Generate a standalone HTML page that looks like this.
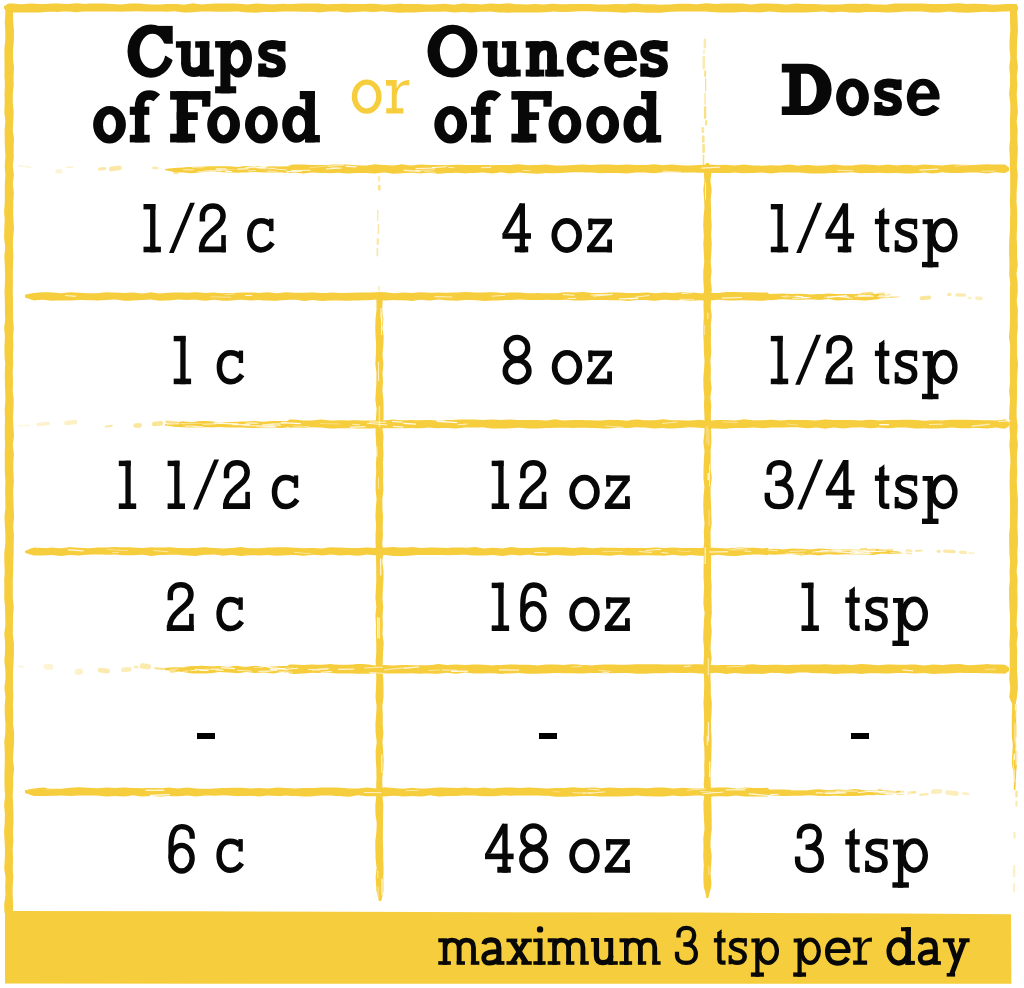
<!DOCTYPE html>
<html><head><meta charset="utf-8">
<style>
html,body{margin:0;padding:0;background:#fff;}
body{width:1024px;height:988px;position:relative;overflow:hidden;font-family:"Liberation Sans",sans-serif;}
.t{position:absolute;line-height:1;white-space:pre;transform-origin:0 0;}
.d{position:absolute;width:18px;height:6px;background:#000;}
.sr-only{position:absolute;left:0;top:0;width:1px;height:1px;overflow:hidden;clip:rect(0 0 0 0);white-space:nowrap;font-family:"Liberation Sans",sans-serif;color:transparent;}
</style></head><body>
<svg width="1024" height="988" viewBox="0 0 1024 988" style="position:absolute;left:0;top:0"><g fill="#f6cd3c"><path d="M4.0 6.3 L8.5 3.6 L13.0 3.5 L17.5 3.9 L22.0 4.2 L26.5 3.8 L31.0 3.4 L35.5 3.7 L40.0 4.1 L44.5 3.9 L49.0 3.8 L53.5 3.6 L58.0 3.4 L62.5 3.7 L67.0 4.0 L71.5 3.7 L76.0 3.3 L80.5 3.6 L85.0 3.9 L89.5 3.6 L94.0 3.4 L98.5 3.4 L103.0 3.4 L107.5 3.7 L112.0 3.9 L116.5 4.2 L121.0 4.5 L125.5 4.0 L130.0 3.5 L134.5 3.5 L139.0 3.6 L143.5 3.9 L148.0 4.2 L152.5 4.4 L157.0 4.6 L161.5 4.4 L166.0 4.1 L170.5 4.0 L175.0 3.9 L179.5 4.3 L184.0 4.7 L188.5 4.0 L193.0 3.3 L197.5 3.9 L202.0 4.5 L206.5 4.1 L211.0 3.7 L215.5 3.6 L220.0 3.5 L224.5 3.5 L229.0 3.4 L233.5 3.6 L238.0 3.7 L242.5 4.1 L247.0 4.5 L251.5 4.0 L256.0 3.5 L260.5 3.8 L265.0 4.1 L269.5 4.2 L274.0 4.2 L278.5 4.0 L283.0 3.8 L287.5 3.9 L292.0 4.1 L296.5 3.7 L301.0 3.4 L305.5 3.4 L310.0 3.4 L314.5 3.5 L319.0 3.6 L323.5 3.9 L328.0 4.3 L332.5 4.1 L337.0 3.9 L341.5 3.8 L346.0 3.7 L350.5 3.9 L355.0 4.1 L359.5 4.0 L364.0 3.9 L368.5 3.8 L373.0 3.7 L377.5 4.1 L382.0 4.4 L386.5 4.4 L391.0 4.3 L395.5 4.0 L400.0 3.6 L404.5 3.9 L409.0 4.1 L413.5 4.1 L418.0 4.0 L422.5 4.3 L427.0 4.5 L431.5 4.4 L436.0 4.3 L440.5 4.0 L445.0 3.7 L449.5 4.2 L454.0 4.7 L458.5 4.1 L463.0 3.5 L467.5 3.7 L472.0 3.9 L476.5 4.1 L481.0 4.4 L485.5 3.9 L490.0 3.5 L494.5 3.7 L499.0 4.0 L503.5 3.7 L508.0 3.3 L512.5 3.8 L517.0 4.2 L521.5 4.3 L526.0 4.4 L530.5 4.2 L535.0 4.1 L539.5 4.3 L544.0 4.5 L548.5 4.1 L553.0 3.7 L557.5 4.0 L562.0 4.3 L566.5 4.2 L571.0 4.1 L575.5 4.1 L580.0 4.1 L584.5 4.0 L589.0 3.9 L593.5 4.2 L598.0 4.5 L602.5 4.6 L607.0 4.6 L611.5 4.3 L616.0 4.0 L620.5 4.1 L625.0 4.2 L629.5 3.8 L634.0 3.4 L638.5 3.8 L643.0 4.3 L647.5 4.3 L652.0 4.2 L656.5 4.5 L661.0 4.7 L665.5 4.6 L670.0 4.5 L674.5 4.1 L679.0 3.7 L683.5 3.8 L688.0 3.8 L692.5 4.0 L697.0 4.2 L701.5 3.8 L706.0 3.3 L710.5 3.6 L715.0 3.9 L719.5 3.7 L724.0 3.5 L728.5 3.5 L733.0 3.4 L737.5 3.4 L742.0 3.4 L746.5 3.9 L751.0 4.4 L755.5 3.9 L760.0 3.5 L764.5 3.6 L769.0 3.6 L773.5 3.7 L778.0 3.8 L782.5 4.2 L787.0 4.5 L791.5 4.0 L796.0 3.4 L800.5 3.7 L805.0 3.9 L809.5 4.0 L814.0 4.1 L818.5 4.3 L823.0 4.6 L827.5 4.5 L832.0 4.5 L836.5 4.5 L841.0 4.5 L845.5 4.1 L850.0 3.7 L854.5 3.8 L859.0 3.9 L863.5 3.8 L868.0 3.8 L872.5 4.2 L877.0 4.6 L881.5 4.6 L886.0 4.7 L890.5 4.1 L895.0 3.5 L899.5 3.5 L904.0 3.5 L908.5 3.6 L913.0 3.6 L917.5 3.6 L922.0 3.6 L926.5 3.8 L931.0 4.0 L935.5 4.1 L940.0 4.1 L944.5 3.9 L949.0 3.7 L953.5 3.5 L958.0 3.3 L962.5 3.6 L967.0 3.9 L971.5 3.8 L976.0 3.8 L980.5 4.0 L985.0 4.1 L989.5 4.4 L994.0 4.7 L998.5 4.5 L1003.0 4.3 L1007.5 4.1 L1012.0 4.0 L1016.5 4.1 L1018.0 6.7 L1018.0 9.7 L1016.5 12.0 L1012.0 11.3 L1007.5 11.4 L1003.0 11.5 L998.5 11.8 L994.0 12.1 L989.5 11.9 L985.0 11.8 L980.5 12.0 L976.0 12.2 L971.5 12.5 L967.0 12.7 L962.5 12.6 L958.0 12.5 L953.5 12.0 L949.0 11.5 L944.5 12.0 L940.0 12.4 L935.5 12.5 L931.0 12.6 L926.5 12.0 L922.0 11.5 L917.5 11.5 L913.0 11.5 L908.5 11.5 L904.0 11.5 L899.5 11.9 L895.0 12.3 L890.5 12.5 L886.0 12.6 L881.5 12.3 L877.0 11.9 L872.5 11.9 L868.0 11.9 L863.5 12.3 L859.0 12.7 L854.5 12.6 L850.0 12.4 L845.5 12.1 L841.0 11.8 L836.5 12.1 L832.0 12.4 L827.5 12.0 L823.0 11.5 L818.5 11.8 L814.0 12.0 L809.5 12.2 L805.0 12.4 L800.5 12.4 L796.0 12.4 L791.5 12.5 L787.0 12.6 L782.5 12.4 L778.0 12.2 L773.5 11.8 L769.0 11.4 L764.5 11.9 L760.0 12.4 L755.5 12.3 L751.0 12.2 L746.5 12.1 L742.0 12.0 L737.5 12.2 L733.0 12.5 L728.5 12.5 L724.0 12.6 L719.5 12.4 L715.0 12.2 L710.5 11.9 L706.0 11.6 L701.5 11.6 L697.0 11.6 L692.5 11.6 L688.0 11.6 L683.5 11.6 L679.0 11.6 L674.5 11.7 L670.0 11.8 L665.5 12.2 L661.0 12.7 L656.5 12.7 L652.0 12.7 L647.5 12.7 L643.0 12.6 L638.5 12.3 L634.0 11.9 L629.5 12.3 L625.0 12.7 L620.5 12.5 L616.0 12.3 L611.5 12.0 L607.0 11.7 L602.5 11.7 L598.0 11.7 L593.5 11.5 L589.0 11.3 L584.5 11.3 L580.0 11.3 L575.5 11.6 L571.0 11.8 L566.5 11.9 L562.0 12.0 L557.5 11.8 L553.0 11.6 L548.5 12.0 L544.0 12.3 L539.5 12.4 L535.0 12.5 L530.5 12.4 L526.0 12.4 L521.5 12.5 L517.0 12.5 L512.5 12.6 L508.0 12.7 L503.5 12.6 L499.0 12.4 L494.5 12.0 L490.0 11.6 L485.5 11.7 L481.0 11.8 L476.5 12.1 L472.0 12.4 L467.5 12.2 L463.0 12.0 L458.5 12.2 L454.0 12.4 L449.5 12.0 L445.0 11.5 L440.5 11.7 L436.0 11.8 L431.5 11.7 L427.0 11.7 L422.5 12.0 L418.0 12.3 L413.5 12.4 L409.0 12.5 L404.5 12.6 L400.0 12.7 L395.5 12.4 L391.0 12.0 L386.5 11.7 L382.0 11.3 L377.5 11.7 L373.0 12.1 L368.5 11.8 L364.0 11.5 L359.5 11.8 L355.0 12.0 L350.5 12.3 L346.0 12.6 L341.5 12.0 L337.0 11.3 L332.5 11.4 L328.0 11.5 L323.5 12.0 L319.0 12.5 L314.5 12.1 L310.0 11.7 L305.5 11.7 L301.0 11.8 L296.5 11.6 L292.0 11.4 L287.5 11.4 L283.0 11.4 L278.5 11.7 L274.0 12.0 L269.5 12.0 L265.0 12.0 L260.5 12.3 L256.0 12.7 L251.5 12.6 L247.0 12.5 L242.5 12.0 L238.0 11.5 L233.5 11.6 L229.0 11.8 L224.5 11.8 L220.0 11.8 L215.5 11.7 L211.0 11.6 L206.5 11.6 L202.0 11.5 L197.5 11.8 L193.0 12.2 L188.5 12.4 L184.0 12.5 L179.5 11.9 L175.0 11.3 L170.5 11.6 L166.0 11.8 L161.5 11.6 L157.0 11.4 L152.5 11.5 L148.0 11.5 L143.5 11.4 L139.0 11.3 L134.5 11.3 L130.0 11.4 L125.5 11.6 L121.0 11.8 L116.5 11.6 L112.0 11.5 L107.5 11.5 L103.0 11.6 L98.5 11.5 L94.0 11.4 L89.5 11.4 L85.0 11.4 L80.5 11.8 L76.0 12.2 L71.5 11.8 L67.0 11.4 L62.5 11.6 L58.0 11.9 L53.5 11.8 L49.0 11.8 L44.5 12.1 L40.0 12.4 L35.5 12.5 L31.0 12.5 L26.5 12.5 L22.0 12.4 L17.5 12.5 L13.0 12.6 L8.5 12.0 L4.0 8.8Z"/>
<path d="M7.6 4.0 L5.1 8.5 L5.4 13.0 L5.1 17.5 L4.7 22.0 L5.0 26.5 L5.3 31.0 L5.3 35.5 L5.3 40.0 L4.8 44.5 L4.4 49.0 L4.4 53.5 L4.4 58.0 L4.5 62.5 L4.5 67.0 L4.5 71.5 L4.4 76.0 L4.7 80.5 L4.9 85.0 L4.7 89.5 L4.5 94.0 L4.6 98.5 L4.7 103.0 L4.5 107.5 L4.3 112.0 L4.8 116.5 L5.4 121.0 L5.0 125.5 L4.6 130.0 L4.7 134.5 L4.7 139.0 L4.8 143.5 L4.9 148.0 L5.2 152.5 L5.4 157.0 L5.0 161.5 L4.7 166.0 L5.0 170.5 L5.4 175.0 L5.1 179.5 L4.8 184.0 L4.8 188.5 L4.8 193.0 L4.8 197.5 L4.8 202.0 L4.5 206.5 L4.1 211.0 L4.4 215.5 L4.7 220.0 L4.5 224.5 L4.3 229.0 L4.2 233.5 L4.1 238.0 L4.7 242.5 L5.2 247.0 L4.8 251.5 L4.3 256.0 L4.5 260.5 L4.8 265.0 L4.9 269.5 L5.1 274.0 L5.0 278.5 L4.9 283.0 L4.7 287.5 L4.5 292.0 L4.7 296.5 L4.8 301.0 L4.9 305.5 L4.9 310.0 L5.0 314.5 L5.2 319.0 L4.7 323.5 L4.2 328.0 L4.6 332.5 L4.9 337.0 L4.7 341.5 L4.4 346.0 L4.5 350.5 L4.5 355.0 L4.8 359.5 L5.2 364.0 L5.0 368.5 L4.8 373.0 L4.8 377.5 L4.9 382.0 L5.0 386.5 L5.2 391.0 L5.3 395.5 L5.4 400.0 L5.1 404.5 L4.7 409.0 L4.8 413.5 L5.0 418.0 L4.9 422.5 L4.8 427.0 L4.8 431.5 L4.8 436.0 L4.9 440.5 L5.1 445.0 L4.9 449.5 L4.7 454.0 L4.8 458.5 L4.8 463.0 L4.8 467.5 L4.8 472.0 L5.1 476.5 L5.4 481.0 L5.3 485.5 L5.1 490.0 L5.2 494.5 L5.3 499.0 L5.4 503.5 L5.4 508.0 L4.9 512.5 L4.5 517.0 L4.7 521.5 L4.9 526.0 L5.2 530.5 L5.4 535.0 L5.4 539.5 L5.3 544.0 L4.8 548.5 L4.3 553.0 L4.3 557.5 L4.3 562.0 L4.5 566.5 L4.7 571.0 L4.5 575.5 L4.2 580.0 L4.3 584.5 L4.4 589.0 L4.3 593.5 L4.2 598.0 L4.6 602.5 L5.0 607.0 L5.1 611.5 L5.2 616.0 L5.3 620.5 L5.4 625.0 L4.8 629.5 L4.3 634.0 L4.7 638.5 L5.1 643.0 L5.1 647.5 L5.0 652.0 L4.7 656.5 L4.3 661.0 L4.8 665.5 L5.4 670.0 L5.4 674.5 L5.5 679.0 L4.9 683.5 L4.4 688.0 L4.9 692.5 L5.5 697.0 L5.1 701.5 L4.7 706.0 L4.7 710.5 L4.8 715.0 L5.1 719.5 L5.5 724.0 L5.4 728.5 L5.3 733.0 L4.8 737.5 L4.3 742.0 L4.5 746.5 L4.7 751.0 L4.8 755.5 L4.8 760.0 L4.7 764.5 L4.6 769.0 L4.5 773.5 L4.4 778.0 L4.5 782.5 L4.5 787.0 L4.8 791.5 L5.1 796.0 L4.6 800.5 L4.1 805.0 L4.5 809.5 L4.9 814.0 L4.8 818.5 L4.7 823.0 L4.4 827.5 L4.1 832.0 L4.3 836.5 L4.6 841.0 L4.8 845.5 L5.0 850.0 L4.9 854.5 L4.8 859.0 L4.5 863.5 L4.2 868.0 L4.8 872.5 L5.5 877.0 L5.4 881.5 L5.2 886.0 L5.3 890.5 L5.5 895.0 L4.9 899.5 L4.2 904.0 L4.3 908.5 L4.5 913.0 L7.2 915.0 L10.3 915.0 L13.0 913.0 L13.1 908.5 L13.1 904.0 L12.9 899.5 L12.7 895.0 L12.7 890.5 L12.7 886.0 L13.0 881.5 L13.3 877.0 L13.0 872.5 L12.8 868.0 L12.9 863.5 L13.1 859.0 L12.9 854.5 L12.7 850.0 L13.0 845.5 L13.4 841.0 L13.2 836.5 L13.0 832.0 L13.2 827.5 L13.4 823.0 L13.4 818.5 L13.4 814.0 L13.3 809.5 L13.2 805.0 L13.0 800.5 L12.7 796.0 L12.9 791.5 L13.2 787.0 L13.2 782.5 L13.1 778.0 L13.6 773.5 L14.1 769.0 L13.6 764.5 L13.0 760.0 L13.2 755.5 L13.5 751.0 L13.8 746.5 L14.1 742.0 L14.1 737.5 L14.1 733.0 L13.6 728.5 L13.1 724.0 L13.2 719.5 L13.3 715.0 L13.1 710.5 L12.9 706.0 L13.1 701.5 L13.3 697.0 L13.2 692.5 L13.1 688.0 L13.1 683.5 L13.0 679.0 L13.1 674.5 L13.1 670.0 L13.4 665.5 L13.6 661.0 L13.8 656.5 L13.9 652.0 L13.9 647.5 L13.9 643.0 L13.3 638.5 L12.8 634.0 L12.9 629.5 L12.9 625.0 L13.0 620.5 L13.0 616.0 L13.4 611.5 L13.7 607.0 L13.3 602.5 L12.8 598.0 L12.8 593.5 L12.9 589.0 L12.8 584.5 L12.8 580.0 L13.0 575.5 L13.2 571.0 L13.2 566.5 L13.3 562.0 L13.4 557.5 L13.6 553.0 L13.6 548.5 L13.7 544.0 L13.8 539.5 L13.9 535.0 L13.5 530.5 L13.2 526.0 L13.6 521.5 L14.1 517.0 L13.9 512.5 L13.7 508.0 L13.5 503.5 L13.4 499.0 L13.3 494.5 L13.2 490.0 L13.6 485.5 L13.9 481.0 L13.6 476.5 L13.4 472.0 L13.3 467.5 L13.3 463.0 L13.6 458.5 L13.9 454.0 L13.3 449.5 L12.8 445.0 L13.4 440.5 L14.0 436.0 L13.7 431.5 L13.4 427.0 L13.2 422.5 L13.0 418.0 L13.2 413.5 L13.5 409.0 L13.6 404.5 L13.7 400.0 L13.2 395.5 L12.7 391.0 L12.9 386.5 L13.0 382.0 L12.9 377.5 L12.7 373.0 L12.9 368.5 L13.2 364.0 L13.1 359.5 L12.9 355.0 L13.2 350.5 L13.4 346.0 L13.2 341.5 L13.1 337.0 L13.4 332.5 L13.8 328.0 L13.4 323.5 L13.1 319.0 L13.1 314.5 L13.1 310.0 L13.0 305.5 L13.0 301.0 L12.9 296.5 L12.8 292.0 L12.8 287.5 L12.9 283.0 L12.9 278.5 L12.8 274.0 L12.9 269.5 L13.0 265.0 L13.2 260.5 L13.4 256.0 L13.2 251.5 L12.9 247.0 L13.0 242.5 L13.1 238.0 L13.5 233.5 L14.0 229.0 L13.7 224.5 L13.5 220.0 L13.3 215.5 L13.2 211.0 L13.3 206.5 L13.3 202.0 L13.6 197.5 L13.9 193.0 L13.3 188.5 L12.8 184.0 L13.3 179.5 L13.9 175.0 L13.4 170.5 L12.8 166.0 L13.3 161.5 L13.8 157.0 L13.7 152.5 L13.6 148.0 L13.8 143.5 L14.0 139.0 L13.4 134.5 L12.8 130.0 L13.0 125.5 L13.3 121.0 L13.5 116.5 L13.7 112.0 L13.2 107.5 L12.8 103.0 L12.8 98.5 L12.8 94.0 L13.2 89.5 L13.7 85.0 L13.6 80.5 L13.5 76.0 L13.8 71.5 L14.0 67.0 L13.4 62.5 L12.9 58.0 L13.0 53.5 L13.1 49.0 L13.5 44.5 L13.9 40.0 L13.9 35.5 L14.0 31.0 L13.6 26.5 L13.3 22.0 L13.1 17.5 L12.9 13.0 L13.0 8.5 L10.3 4.0Z"/>
<path d="M1012.5 4.0 L1010.0 8.5 L1010.0 13.0 L1010.0 17.5 L1010.1 22.0 L1010.2 26.5 L1010.3 31.0 L1009.9 35.5 L1009.6 40.0 L1009.5 44.5 L1009.5 49.0 L1010.0 53.5 L1010.4 58.0 L1009.8 62.5 L1009.2 67.0 L1009.7 71.5 L1010.1 76.0 L1010.0 80.5 L1010.0 85.0 L1009.5 89.5 L1009.1 94.0 L1009.7 98.5 L1010.2 103.0 L1010.3 107.5 L1010.3 112.0 L1010.1 116.5 L1009.9 121.0 L1010.0 125.5 L1010.1 130.0 L1010.1 134.5 L1010.2 139.0 L1009.7 143.5 L1009.2 148.0 L1009.5 152.5 L1009.8 157.0 L1009.8 161.5 L1009.8 166.0 L1010.0 170.5 L1010.2 175.0 L1010.2 179.5 L1010.2 184.0 L1010.2 188.5 L1010.2 193.0 L1010.0 197.5 L1009.9 202.0 L1010.1 206.5 L1010.3 211.0 L1010.2 215.5 L1010.0 220.0 L1010.0 224.5 L1010.0 229.0 L1009.7 233.5 L1009.4 238.0 L1009.2 242.5 L1009.1 247.0 L1009.1 251.5 L1009.2 256.0 L1009.4 260.5 L1009.5 265.0 L1009.4 269.5 L1009.2 274.0 L1009.7 278.5 L1010.2 283.0 L1010.0 287.5 L1009.8 292.0 L1009.9 296.5 L1009.9 301.0 L1009.9 305.5 L1009.9 310.0 L1010.0 314.5 L1010.0 319.0 L1009.9 323.5 L1009.7 328.0 L1009.4 332.5 L1009.0 337.0 L1009.6 341.5 L1010.2 346.0 L1010.1 350.5 L1010.1 355.0 L1009.9 359.5 L1009.8 364.0 L1009.8 368.5 L1009.8 373.0 L1009.9 377.5 L1010.0 382.0 L1009.6 386.5 L1009.1 391.0 L1009.6 395.5 L1010.1 400.0 L1009.7 404.5 L1009.4 409.0 L1009.3 413.5 L1009.1 418.0 L1009.3 422.5 L1009.4 427.0 L1009.7 431.5 L1010.1 436.0 L1009.7 440.5 L1009.3 445.0 L1009.7 449.5 L1010.1 454.0 L1010.3 458.5 L1010.4 463.0 L1010.1 467.5 L1009.7 472.0 L1009.7 476.5 L1009.6 481.0 L1009.7 485.5 L1009.7 490.0 L1009.9 494.5 L1010.0 499.0 L1010.1 503.5 L1010.1 508.0 L1010.0 512.5 L1009.9 517.0 L1009.9 521.5 L1010.0 526.0 L1009.5 530.5 L1009.1 535.0 L1009.2 539.5 L1009.2 544.0 L1009.3 548.5 L1009.4 553.0 L1009.7 557.5 L1010.1 562.0 L1009.8 566.5 L1009.5 571.0 L1009.7 575.5 L1009.8 580.0 L1009.4 584.5 L1009.0 589.0 L1009.1 593.5 L1009.1 598.0 L1009.3 602.5 L1009.4 607.0 L1009.7 611.5 L1010.0 616.0 L1010.0 620.5 L1010.0 625.0 L1010.0 629.5 L1010.0 634.0 L1009.7 638.5 L1009.4 643.0 L1009.6 647.5 L1009.8 652.0 L1009.7 656.5 L1009.7 661.0 L1009.7 665.5 L1009.7 670.0 L1009.5 674.5 L1009.2 679.0 L1009.8 683.5 L1010.3 688.0 L1009.8 692.5 L1009.3 697.0 L1010.9 701.5 L1012.8 705.0 L1015.0 705.0 L1016.2 701.5 L1016.9 697.0 L1017.4 692.5 L1017.9 688.0 L1017.8 683.5 L1017.6 679.0 L1017.3 674.5 L1017.0 670.0 L1017.0 665.5 L1017.0 661.0 L1017.1 656.5 L1017.2 652.0 L1017.0 647.5 L1016.7 643.0 L1017.3 638.5 L1017.9 634.0 L1017.2 629.5 L1016.6 625.0 L1016.8 620.5 L1016.9 616.0 L1017.2 611.5 L1017.5 607.0 L1017.5 602.5 L1017.6 598.0 L1017.4 593.5 L1017.2 589.0 L1017.4 584.5 L1017.6 580.0 L1017.1 575.5 L1016.6 571.0 L1017.1 566.5 L1017.6 562.0 L1017.4 557.5 L1017.3 553.0 L1017.6 548.5 L1017.9 544.0 L1017.9 539.5 L1017.8 535.0 L1017.6 530.5 L1017.4 526.0 L1017.6 521.5 L1017.7 517.0 L1017.8 512.5 L1017.8 508.0 L1017.9 503.5 L1017.9 499.0 L1017.5 494.5 L1017.1 490.0 L1016.9 485.5 L1016.8 481.0 L1017.0 476.5 L1017.3 472.0 L1017.1 467.5 L1016.9 463.0 L1016.9 458.5 L1016.9 454.0 L1017.4 449.5 L1017.9 445.0 L1017.4 440.5 L1016.9 436.0 L1017.3 431.5 L1017.7 427.0 L1017.2 422.5 L1016.7 418.0 L1016.6 413.5 L1016.6 409.0 L1016.8 404.5 L1016.9 400.0 L1017.0 395.5 L1017.1 391.0 L1017.1 386.5 L1017.0 382.0 L1017.2 377.5 L1017.4 373.0 L1017.7 368.5 L1018.0 364.0 L1017.5 359.5 L1017.1 355.0 L1017.1 350.5 L1017.1 346.0 L1017.0 341.5 L1016.9 337.0 L1017.4 332.5 L1017.8 328.0 L1017.7 323.5 L1017.6 319.0 L1017.7 314.5 L1017.9 310.0 L1017.3 305.5 L1016.7 301.0 L1017.2 296.5 L1017.7 292.0 L1017.7 287.5 L1017.6 283.0 L1017.1 278.5 L1016.5 274.0 L1017.1 269.5 L1017.7 265.0 L1017.4 260.5 L1017.0 256.0 L1017.0 251.5 L1017.0 247.0 L1016.9 242.5 L1016.7 238.0 L1016.8 233.5 L1017.0 229.0 L1017.1 224.5 L1017.2 220.0 L1017.2 215.5 L1017.2 211.0 L1016.9 206.5 L1016.5 202.0 L1016.6 197.5 L1016.6 193.0 L1016.9 188.5 L1017.2 184.0 L1017.5 179.5 L1017.8 175.0 L1017.3 170.5 L1016.9 166.0 L1017.2 161.5 L1017.5 157.0 L1017.7 152.5 L1017.8 148.0 L1017.5 143.5 L1017.3 139.0 L1017.5 134.5 L1017.7 130.0 L1017.2 125.5 L1016.7 121.0 L1017.3 116.5 L1017.9 112.0 L1017.6 107.5 L1017.3 103.0 L1017.0 98.5 L1016.7 94.0 L1017.1 89.5 L1017.4 85.0 L1017.1 80.5 L1016.8 76.0 L1017.4 71.5 L1017.9 67.0 L1017.4 62.5 L1016.8 58.0 L1016.9 53.5 L1016.9 49.0 L1017.0 44.5 L1017.2 40.0 L1017.6 35.5 L1017.9 31.0 L1017.8 26.5 L1017.7 22.0 L1017.5 17.5 L1017.2 13.0 L1016.9 8.5 L1014.1 4.0Z"/>
<path d="M1013.8 700.0 L1012.2 704.5 L1012.1 709.0 L1011.9 713.5 L1011.8 718.0 L1011.8 722.5 L1011.8 727.0 L1011.8 731.5 L1011.8 736.0 L1012.3 740.5 L1012.8 745.0 L1012.5 749.5 L1012.2 754.0 L1012.0 758.5 L1011.8 763.0 L1012.5 767.5 L1013.2 772.0 L1013.6 776.5 L1013.9 781.0 L1013.8 785.5 L1013.6 790.0 L1013.6 790.0 L1015.3 790.0 L1015.3 790.0 L1015.5 785.5 L1015.7 781.0 L1016.0 776.5 L1016.2 772.0 L1016.7 767.5 L1017.1 763.0 L1017.2 758.5 L1017.3 754.0 L1017.1 749.5 L1016.9 745.0 L1016.6 740.5 L1016.4 736.0 L1016.4 731.5 L1016.4 727.0 L1016.3 722.5 L1016.2 718.0 L1016.3 713.5 L1016.5 709.0 L1016.3 704.5 L1014.7 700.0Z"/>
<path d="M165.0 168.9 L169.5 168.5 L174.0 168.1 L178.5 167.8 L183.0 167.5 L187.5 167.1 L192.0 166.9 L196.5 166.8 L201.0 166.7 L205.5 166.5 L210.0 166.3 L214.5 166.2 L219.0 166.2 L223.5 166.3 L228.0 166.3 L232.5 166.6 L237.0 166.9 L241.5 166.4 L246.0 165.9 L250.5 166.0 L255.0 166.1 L259.5 166.5 L264.0 166.9 L268.5 166.5 L273.0 166.1 L277.5 166.0 L282.0 165.9 L286.5 165.9 L290.0 167.8 L290.0 170.9 L286.5 172.8 L282.0 172.8 L277.5 172.7 L273.0 172.7 L268.5 172.5 L264.0 172.4 L259.5 172.2 L255.0 172.1 L250.5 172.3 L246.0 172.4 L241.5 172.6 L237.0 172.8 L232.5 172.6 L228.0 172.5 L223.5 172.2 L219.0 171.9 L214.5 171.9 L210.0 171.9 L205.5 172.0 L201.0 172.2 L196.5 172.7 L192.0 173.2 L187.5 172.9 L183.0 172.5 L178.5 172.2 L174.0 171.9 L169.5 171.1 L165.0 170.3Z"/>
<path d="M285.0 168.1 L289.5 165.0 L294.0 164.5 L298.5 164.6 L303.0 164.6 L307.5 164.7 L312.0 164.9 L316.5 164.9 L321.0 165.0 L325.5 164.9 L330.0 164.8 L334.5 164.6 L339.0 164.5 L343.5 164.5 L348.0 164.6 L352.5 165.0 L357.0 165.3 L361.5 165.4 L366.0 165.6 L370.5 165.0 L375.0 164.3 L379.5 164.7 L384.0 165.1 L388.5 165.2 L393.0 165.4 L397.5 164.9 L402.0 164.3 L406.5 164.9 L411.0 165.5 L415.5 165.0 L420.0 164.4 L424.5 164.8 L429.0 165.1 L433.5 165.1 L438.0 165.1 L442.5 165.1 L447.0 165.2 L451.5 165.0 L456.0 164.7 L460.5 164.8 L465.0 164.9 L469.5 165.0 L474.0 165.1 L478.5 165.0 L483.0 164.9 L487.5 165.1 L492.0 165.2 L496.5 165.1 L501.0 164.9 L505.5 164.9 L510.0 164.9 L514.5 164.6 L519.0 164.3 L523.5 164.7 L528.0 165.2 L532.5 165.1 L537.0 165.0 L541.5 164.8 L546.0 164.6 L550.5 165.0 L555.0 165.4 L559.5 165.4 L564.0 165.4 L568.5 165.2 L573.0 164.9 L577.5 164.7 L582.0 164.5 L586.5 164.8 L591.0 165.0 L595.5 164.7 L600.0 164.4 L604.5 164.4 L609.0 164.5 L613.5 164.7 L618.0 164.9 L622.5 164.7 L627.0 164.4 L631.5 164.7 L636.0 164.9 L640.5 165.0 L645.0 165.0 L649.5 164.7 L654.0 164.3 L658.5 164.8 L663.0 165.2 L667.5 164.8 L672.0 164.4 L676.5 164.9 L681.0 165.3 L685.5 165.4 L690.0 165.4 L694.5 165.2 L699.0 165.0 L703.5 164.7 L708.0 164.4 L712.5 164.7 L717.0 165.0 L721.5 164.9 L726.0 164.8 L730.5 165.2 L735.0 165.6 L739.5 165.1 L744.0 164.5 L748.5 165.0 L753.0 165.5 L757.5 165.6 L762.0 165.7 L766.5 165.5 L771.0 165.3 L775.5 165.4 L780.0 165.5 L784.5 165.0 L789.0 164.6 L793.5 165.1 L798.0 165.7 L802.5 165.3 L807.0 165.0 L811.5 165.3 L816.0 165.7 L820.5 165.6 L825.0 165.6 L829.5 165.1 L834.0 164.5 L838.5 165.0 L843.0 165.4 L847.5 165.5 L852.0 165.6 L856.5 165.0 L861.0 164.4 L865.5 164.6 L870.0 164.8 L874.5 165.1 L879.0 165.4 L883.5 164.9 L888.0 164.5 L892.5 165.0 L897.0 165.6 L901.5 165.1 L906.0 164.7 L910.5 165.1 L915.0 165.5 L919.5 165.0 L924.0 164.5 L928.5 164.7 L933.0 165.0 L937.5 165.3 L942.0 165.6 L946.5 165.1 L951.0 164.6 L955.5 164.6 L960.0 164.7 L964.5 164.8 L969.0 165.0 L973.5 164.9 L978.0 164.7 L982.5 164.5 L987.0 164.3 L991.5 164.4 L996.0 164.5 L1000.5 164.5 L1005.0 164.5 L1009.0 167.6 L1009.0 170.7 L1005.0 173.1 L1000.5 172.7 L996.0 172.3 L991.5 172.8 L987.0 173.4 L982.5 172.9 L978.0 172.4 L973.5 172.5 L969.0 172.6 L964.5 172.7 L960.0 172.9 L955.5 173.0 L951.0 173.0 L946.5 172.7 L942.0 172.3 L937.5 173.0 L933.0 173.6 L928.5 173.1 L924.0 172.6 L919.5 173.0 L915.0 173.3 L910.5 173.5 L906.0 173.6 L901.5 173.3 L897.0 172.9 L892.5 173.1 L888.0 173.2 L883.5 173.0 L879.0 172.8 L874.5 172.9 L870.0 173.1 L865.5 173.1 L861.0 173.2 L856.5 172.8 L852.0 172.3 L847.5 172.5 L843.0 172.7 L838.5 172.8 L834.0 172.9 L829.5 173.1 L825.0 173.4 L820.5 173.5 L816.0 173.5 L811.5 173.4 L807.0 173.2 L802.5 172.8 L798.0 172.4 L793.5 172.5 L789.0 172.5 L784.5 172.6 L780.0 172.6 L775.5 173.1 L771.0 173.6 L766.5 173.1 L762.0 172.5 L757.5 172.7 L753.0 173.0 L748.5 173.1 L744.0 173.2 L739.5 172.9 L735.0 172.6 L730.5 172.9 L726.0 173.1 L721.5 173.1 L717.0 173.1 L712.5 172.9 L708.0 172.6 L703.5 172.7 L699.0 172.8 L694.5 172.6 L690.0 172.4 L685.5 172.6 L681.0 172.8 L676.5 172.5 L672.0 172.3 L667.5 172.3 L663.0 172.3 L658.5 172.8 L654.0 173.2 L649.5 172.9 L645.0 172.6 L640.5 172.5 L636.0 172.5 L631.5 173.0 L627.0 173.6 L622.5 173.3 L618.0 173.0 L613.5 173.0 L609.0 172.9 L604.5 173.0 L600.0 173.2 L595.5 172.8 L591.0 172.5 L586.5 172.4 L582.0 172.3 L577.5 172.3 L573.0 172.3 L568.5 172.5 L564.0 172.7 L559.5 173.0 L555.0 173.2 L550.5 173.2 L546.0 173.1 L541.5 173.4 L537.0 173.7 L532.5 173.4 L528.0 173.2 L523.5 172.9 L519.0 172.6 L514.5 173.1 L510.0 173.5 L505.5 172.9 L501.0 172.3 L496.5 172.9 L492.0 173.4 L487.5 172.9 L483.0 172.5 L478.5 172.7 L474.0 172.9 L469.5 173.1 L465.0 173.4 L460.5 173.1 L456.0 172.8 L451.5 173.0 L447.0 173.1 L442.5 173.4 L438.0 173.7 L433.5 173.2 L429.0 172.7 L424.5 173.0 L420.0 173.4 L415.5 173.1 L411.0 172.8 L406.5 173.0 L402.0 173.2 L397.5 173.4 L393.0 173.7 L388.5 173.1 L384.0 172.4 L379.5 173.0 L375.0 173.6 L370.5 173.3 L366.0 173.1 L361.5 173.1 L357.0 173.1 L352.5 173.3 L348.0 173.5 L343.5 173.2 L339.0 172.8 L334.5 173.0 L330.0 173.2 L325.5 173.1 L321.0 173.0 L316.5 172.7 L312.0 172.4 L307.5 172.9 L303.0 173.4 L298.5 173.0 L294.0 172.5 L289.5 173.0 L285.0 171.0Z"/>
<path d="M165.0 424.1 L169.5 423.6 L174.0 423.1 L178.5 422.3 L183.0 421.5 L187.5 421.7 L192.0 422.2 L196.5 421.5 L201.0 420.9 L205.5 421.1 L210.0 421.3 L214.5 421.8 L219.0 422.2 L223.5 422.1 L228.0 421.9 L232.5 421.9 L237.0 421.8 L241.5 421.6 L246.0 421.4 L250.5 421.2 L255.0 421.1 L259.5 421.4 L264.0 421.7 L268.5 421.3 L273.0 420.9 L277.5 421.0 L282.0 421.1 L286.5 421.2 L290.0 423.3 L290.0 425.5 L286.5 427.6 L282.0 427.9 L277.5 427.7 L273.0 427.6 L268.5 427.5 L264.0 427.4 L259.5 427.7 L255.0 428.1 L250.5 428.0 L246.0 427.8 L241.5 427.6 L237.0 427.4 L232.5 427.5 L228.0 427.6 L223.5 427.3 L219.0 427.0 L214.5 427.2 L210.0 427.4 L205.5 427.6 L201.0 427.7 L196.5 427.6 L192.0 427.5 L187.5 427.4 L183.0 427.2 L178.5 427.0 L174.0 426.7 L169.5 426.0 L165.0 425.4Z"/>
<path d="M285.0 422.4 L289.5 419.6 L294.0 419.5 L298.5 420.0 L303.0 420.6 L307.5 420.5 L312.0 420.4 L316.5 420.0 L321.0 419.5 L325.5 420.0 L330.0 420.6 L334.5 420.4 L339.0 420.2 L343.5 420.3 L348.0 420.4 L352.5 420.3 L357.0 420.2 L361.5 420.4 L366.0 420.6 L370.5 420.5 L375.0 420.4 L379.5 420.5 L384.0 420.5 L388.5 420.0 L393.0 419.6 L397.5 419.9 L402.0 420.3 L406.5 420.2 L411.0 420.0 L415.5 420.2 L420.0 420.3 L424.5 420.1 L429.0 419.9 L433.5 420.2 L438.0 420.6 L442.5 420.3 L447.0 420.1 L451.5 419.9 L456.0 419.7 L460.5 419.6 L465.0 419.6 L469.5 419.5 L474.0 419.5 L478.5 419.7 L483.0 420.0 L487.5 419.7 L492.0 419.4 L496.5 419.7 L501.0 420.0 L505.5 419.7 L510.0 419.5 L514.5 419.7 L519.0 420.0 L523.5 420.0 L528.0 420.0 L532.5 420.0 L537.0 420.1 L541.5 420.3 L546.0 420.5 L550.5 419.9 L555.0 419.3 L559.5 419.9 L564.0 420.5 L568.5 420.2 L573.0 420.0 L577.5 420.0 L582.0 420.1 L586.5 420.2 L591.0 420.2 L595.5 420.4 L600.0 420.5 L604.5 420.2 L609.0 419.8 L613.5 419.9 L618.0 419.9 L622.5 420.3 L627.0 420.7 L631.5 420.0 L636.0 419.4 L640.5 419.8 L645.0 420.2 L649.5 420.2 L654.0 420.2 L658.5 419.8 L663.0 419.3 L667.5 419.7 L672.0 420.2 L676.5 420.2 L681.0 420.3 L685.5 420.4 L690.0 420.6 L694.5 420.2 L699.0 419.8 L703.5 420.2 L708.0 420.7 L712.5 420.4 L717.0 420.0 L721.5 420.0 L726.0 420.0 L730.5 420.3 L735.0 420.6 L739.5 420.0 L744.0 419.3 L748.5 419.8 L753.0 420.3 L757.5 420.2 L762.0 420.2 L766.5 420.0 L771.0 419.8 L775.5 420.1 L780.0 420.5 L784.5 420.2 L789.0 419.8 L793.5 419.9 L798.0 420.0 L802.5 420.0 L807.0 420.0 L811.5 420.2 L816.0 420.4 L820.5 420.0 L825.0 419.6 L829.5 419.7 L834.0 419.9 L838.5 419.9 L843.0 419.9 L847.5 420.0 L852.0 420.1 L856.5 420.3 L861.0 420.5 L865.5 420.1 L870.0 419.7 L874.5 420.1 L879.0 420.5 L883.5 420.2 L888.0 419.9 L892.5 419.9 L897.0 420.0 L901.5 419.8 L906.0 419.7 L910.5 419.8 L915.0 420.0 L919.5 420.3 L924.0 420.7 L928.5 420.5 L933.0 420.2 L937.5 420.3 L942.0 420.4 L946.5 420.1 L951.0 419.8 L955.5 419.7 L960.0 419.7 L964.5 419.7 L969.0 419.7 L973.5 419.9 L978.0 420.1 L982.5 420.2 L987.0 420.2 L991.5 420.3 L996.0 420.4 L1000.5 419.9 L1005.0 419.3 L1009.0 422.3 L1009.0 425.9 L1005.0 428.7 L1000.5 428.2 L996.0 427.6 L991.5 428.1 L987.0 428.6 L982.5 428.3 L978.0 427.9 L973.5 428.1 L969.0 428.3 L964.5 428.2 L960.0 428.2 L955.5 427.8 L951.0 427.4 L946.5 427.9 L942.0 428.3 L937.5 428.4 L933.0 428.5 L928.5 428.4 L924.0 428.3 L919.5 428.4 L915.0 428.4 L910.5 427.9 L906.0 427.4 L901.5 427.5 L897.0 427.5 L892.5 427.9 L888.0 428.3 L883.5 428.0 L879.0 427.6 L874.5 428.0 L870.0 428.3 L865.5 427.8 L861.0 427.3 L856.5 427.4 L852.0 427.5 L847.5 428.0 L843.0 428.5 L838.5 428.0 L834.0 427.4 L829.5 428.0 L825.0 428.7 L820.5 428.1 L816.0 427.5 L811.5 427.9 L807.0 428.3 L802.5 427.8 L798.0 427.3 L793.5 427.3 L789.0 427.3 L784.5 427.4 L780.0 427.5 L775.5 427.5 L771.0 427.6 L766.5 427.9 L762.0 428.2 L757.5 427.8 L753.0 427.4 L748.5 427.7 L744.0 427.9 L739.5 427.9 L735.0 428.0 L730.5 428.3 L726.0 428.7 L721.5 428.7 L717.0 428.6 L712.5 428.4 L708.0 428.1 L703.5 428.0 L699.0 427.8 L694.5 427.6 L690.0 427.3 L685.5 427.6 L681.0 427.9 L676.5 428.3 L672.0 428.6 L667.5 428.4 L663.0 428.1 L658.5 428.3 L654.0 428.4 L649.5 427.9 L645.0 427.5 L640.5 427.4 L636.0 427.3 L631.5 427.7 L627.0 428.1 L622.5 427.7 L618.0 427.4 L613.5 428.0 L609.0 428.6 L604.5 428.4 L600.0 428.2 L595.5 428.1 L591.0 427.9 L586.5 427.8 L582.0 427.7 L577.5 427.8 L573.0 427.9 L568.5 427.8 L564.0 427.7 L559.5 427.7 L555.0 427.7 L550.5 427.9 L546.0 428.1 L541.5 428.3 L537.0 428.4 L532.5 428.4 L528.0 428.5 L523.5 428.1 L519.0 427.8 L514.5 428.0 L510.0 428.2 L505.5 428.4 L501.0 428.6 L496.5 428.5 L492.0 428.4 L487.5 427.9 L483.0 427.3 L478.5 427.4 L474.0 427.5 L469.5 427.5 L465.0 427.4 L460.5 427.9 L456.0 428.4 L451.5 428.2 L447.0 427.9 L442.5 428.1 L438.0 428.2 L433.5 427.9 L429.0 427.6 L424.5 427.9 L420.0 428.3 L415.5 428.2 L411.0 428.1 L406.5 428.2 L402.0 428.3 L397.5 428.2 L393.0 428.2 L388.5 428.2 L384.0 428.2 L379.5 428.2 L375.0 428.2 L370.5 428.4 L366.0 428.6 L361.5 428.5 L357.0 428.4 L352.5 428.3 L348.0 428.2 L343.5 428.2 L339.0 428.2 L334.5 428.4 L330.0 428.6 L325.5 428.1 L321.0 427.6 L316.5 427.4 L312.0 427.3 L307.5 427.5 L303.0 427.7 L298.5 427.5 L294.0 427.4 L289.5 427.7 L285.0 425.5Z"/>
<path d="M165.0 667.9 L169.5 667.6 L174.0 667.3 L178.5 667.3 L183.0 667.4 L187.5 666.6 L192.0 666.1 L196.5 666.0 L201.0 665.8 L205.5 666.1 L210.0 666.3 L214.5 666.2 L219.0 666.1 L223.5 666.5 L228.0 666.9 L232.5 666.3 L237.0 665.8 L241.5 666.4 L246.0 667.0 L250.5 666.3 L255.0 665.7 L259.5 666.3 L264.0 666.9 L268.5 666.7 L273.0 666.6 L277.5 666.2 L282.0 665.9 L286.5 666.1 L290.0 668.3 L290.0 671.0 L286.5 672.6 L282.0 672.0 L277.5 672.7 L273.0 673.4 L268.5 672.9 L264.0 672.4 L259.5 672.7 L255.0 673.0 L250.5 672.5 L246.0 672.1 L241.5 672.7 L237.0 673.3 L232.5 672.8 L228.0 672.4 L223.5 672.2 L219.0 672.1 L214.5 672.7 L210.0 673.3 L205.5 673.4 L201.0 673.4 L196.5 673.4 L192.0 673.4 L187.5 672.7 L183.0 671.9 L178.5 671.4 L174.0 670.9 L169.5 670.6 L165.0 670.3Z"/>
<path d="M285.0 667.2 L289.5 664.5 L294.0 664.6 L298.5 664.8 L303.0 664.9 L307.5 664.7 L312.0 664.6 L316.5 664.7 L321.0 664.8 L325.5 664.5 L330.0 664.1 L334.5 664.4 L339.0 664.7 L343.5 664.7 L348.0 664.8 L352.5 664.4 L357.0 664.1 L361.5 664.1 L366.0 664.2 L370.5 664.8 L375.0 665.4 L379.5 665.3 L384.0 665.1 L388.5 665.3 L393.0 665.4 L397.5 665.2 L402.0 664.9 L406.5 665.1 L411.0 665.2 L415.5 665.2 L420.0 665.3 L424.5 665.3 L429.0 665.3 L433.5 664.7 L438.0 664.1 L442.5 664.5 L447.0 665.0 L451.5 664.7 L456.0 664.4 L460.5 664.7 L465.0 665.0 L469.5 664.7 L474.0 664.4 L478.5 664.6 L483.0 664.8 L487.5 665.1 L492.0 665.4 L496.5 665.1 L501.0 664.9 L505.5 664.7 L510.0 664.4 L514.5 664.6 L519.0 664.8 L523.5 664.7 L528.0 664.7 L532.5 665.0 L537.0 665.4 L541.5 664.9 L546.0 664.4 L550.5 664.5 L555.0 664.5 L559.5 664.7 L564.0 665.0 L568.5 664.6 L573.0 664.2 L577.5 664.5 L582.0 664.9 L586.5 665.1 L591.0 665.4 L595.5 665.1 L600.0 664.8 L604.5 664.6 L609.0 664.4 L613.5 664.6 L618.0 664.7 L622.5 664.8 L627.0 664.8 L631.5 664.5 L636.0 664.2 L640.5 664.2 L645.0 664.2 L649.5 664.2 L654.0 664.2 L658.5 664.3 L663.0 664.5 L667.5 664.5 L672.0 664.6 L676.5 664.5 L681.0 664.4 L685.5 664.4 L690.0 664.4 L694.5 664.3 L699.0 664.2 L703.5 664.5 L708.0 664.8 L712.5 665.0 L717.0 665.2 L721.5 665.1 L726.0 664.9 L730.5 664.9 L735.0 664.9 L739.5 664.9 L744.0 665.0 L748.5 664.6 L753.0 664.3 L757.5 664.7 L762.0 665.1 L766.5 664.9 L771.0 664.7 L775.5 664.8 L780.0 664.8 L784.5 664.9 L789.0 664.9 L793.5 664.8 L798.0 664.7 L802.5 664.6 L807.0 664.5 L811.5 664.4 L816.0 664.4 L820.5 664.4 L825.0 664.3 L829.5 664.6 L834.0 664.8 L838.5 664.7 L843.0 664.6 L847.5 664.7 L852.0 664.9 L856.5 664.5 L861.0 664.0 L865.5 664.3 L870.0 664.5 L874.5 664.9 L879.0 665.3 L883.5 664.8 L888.0 664.4 L892.5 664.6 L897.0 664.8 L901.5 664.8 L906.0 664.7 L910.5 664.6 L915.0 664.4 L919.5 664.9 L924.0 665.5 L928.5 665.0 L933.0 664.5 L937.5 664.8 L942.0 665.1 L946.5 664.7 L951.0 664.3 L955.5 664.2 L960.0 664.1 L964.5 664.7 L969.0 665.3 L973.5 665.0 L978.0 664.7 L982.5 664.4 L987.0 664.1 L991.5 664.4 L996.0 664.6 L1000.5 664.6 L1005.0 664.7 L1009.0 667.6 L1009.0 671.1 L1005.0 673.8 L1000.5 673.6 L996.0 673.4 L991.5 673.3 L987.0 673.3 L982.5 673.2 L978.0 673.1 L973.5 673.1 L969.0 673.1 L964.5 672.9 L960.0 672.7 L955.5 673.0 L951.0 673.3 L946.5 673.4 L942.0 673.5 L937.5 673.7 L933.0 673.9 L928.5 673.5 L924.0 673.0 L919.5 673.2 L915.0 673.4 L910.5 673.2 L906.0 673.0 L901.5 673.1 L897.0 673.1 L892.5 673.3 L888.0 673.5 L883.5 673.4 L879.0 673.3 L874.5 673.3 L870.0 673.3 L865.5 673.6 L861.0 674.0 L856.5 673.6 L852.0 673.3 L847.5 673.5 L843.0 673.6 L838.5 673.7 L834.0 673.9 L829.5 673.6 L825.0 673.2 L820.5 673.3 L816.0 673.3 L811.5 673.0 L807.0 672.6 L802.5 672.6 L798.0 672.5 L793.5 673.2 L789.0 673.8 L784.5 673.5 L780.0 673.1 L775.5 673.0 L771.0 672.8 L766.5 673.4 L762.0 673.9 L757.5 673.8 L753.0 673.7 L748.5 673.7 L744.0 673.7 L739.5 673.4 L735.0 673.0 L730.5 673.4 L726.0 673.9 L721.5 673.3 L717.0 672.7 L712.5 673.0 L708.0 673.4 L703.5 673.4 L699.0 673.4 L694.5 673.0 L690.0 672.7 L685.5 672.9 L681.0 673.0 L676.5 672.9 L672.0 672.8 L667.5 673.0 L663.0 673.2 L658.5 673.2 L654.0 673.2 L649.5 673.5 L645.0 673.8 L640.5 673.7 L636.0 673.7 L631.5 673.3 L627.0 673.0 L622.5 673.0 L618.0 673.1 L613.5 673.2 L609.0 673.3 L604.5 673.2 L600.0 673.1 L595.5 673.0 L591.0 673.0 L586.5 673.3 L582.0 673.6 L577.5 673.4 L573.0 673.2 L568.5 673.2 L564.0 673.2 L559.5 673.1 L555.0 673.1 L550.5 673.2 L546.0 673.4 L541.5 673.6 L537.0 673.8 L532.5 673.7 L528.0 673.7 L523.5 673.4 L519.0 673.1 L514.5 673.2 L510.0 673.4 L505.5 673.6 L501.0 673.9 L496.5 673.6 L492.0 673.2 L487.5 673.3 L483.0 673.4 L478.5 673.5 L474.0 673.6 L469.5 673.1 L465.0 672.5 L460.5 673.2 L456.0 673.8 L451.5 673.2 L447.0 672.7 L442.5 673.3 L438.0 673.8 L433.5 673.7 L429.0 673.6 L424.5 673.6 L420.0 673.7 L415.5 673.4 L411.0 673.2 L406.5 673.4 L402.0 673.6 L397.5 673.6 L393.0 673.6 L388.5 673.6 L384.0 673.6 L379.5 673.4 L375.0 673.3 L370.5 673.5 L366.0 673.7 L361.5 673.7 L357.0 673.8 L352.5 673.6 L348.0 673.4 L343.5 673.5 L339.0 673.5 L334.5 673.3 L330.0 673.0 L325.5 673.0 L321.0 673.0 L316.5 672.9 L312.0 672.8 L307.5 673.2 L303.0 673.6 L298.5 673.8 L294.0 673.9 L289.5 673.4 L285.0 670.1Z"/>
<path d="M25.0 294.7 L29.5 293.7 L34.0 293.0 L38.5 292.6 L43.0 292.2 L47.5 292.3 L52.0 292.4 L56.5 292.8 L61.0 293.2 L65.5 292.7 L70.0 292.2 L74.5 292.4 L79.0 292.7 L83.5 293.0 L88.0 293.2 L92.5 293.2 L97.0 293.2 L101.5 292.7 L106.0 292.3 L110.5 292.4 L115.0 292.5 L119.5 292.8 L124.0 293.1 L128.5 292.8 L133.0 292.6 L137.5 293.0 L142.0 293.4 L146.5 292.9 L151.0 292.3 L155.5 292.9 L160.0 293.4 L164.5 293.1 L169.0 292.8 L173.5 292.6 L178.0 292.4 L182.5 292.5 L187.0 292.7 L191.5 292.5 L196.0 292.2 L200.5 292.6 L205.0 293.0 L209.5 292.7 L214.0 292.4 L218.5 292.9 L223.0 293.3 L227.5 293.1 L232.0 292.9 L236.5 292.7 L241.0 292.6 L245.5 292.5 L250.0 292.4 L254.5 292.6 L259.0 292.9 L263.5 292.6 L268.0 292.3 L272.5 292.8 L277.0 293.3 L281.5 292.7 L286.0 292.2 L290.5 292.5 L295.0 292.8 L299.5 292.8 L304.0 292.8 L308.5 292.6 L313.0 292.4 L317.5 292.8 L322.0 293.1 L326.5 292.9 L331.0 292.6 L335.5 292.8 L340.0 293.0 L344.5 292.9 L349.0 292.8 L353.5 292.7 L358.0 292.5 L362.5 292.5 L367.0 292.6 L371.5 292.4 L376.0 292.2 L380.5 292.2 L385.0 292.3 L389.5 292.8 L394.0 293.3 L398.5 292.9 L403.0 292.5 L407.5 292.7 L412.0 293.0 L416.5 292.6 L421.0 292.2 L425.5 292.5 L430.0 292.8 L434.5 292.7 L439.0 292.6 L443.5 292.7 L448.0 292.8 L452.5 292.6 L457.0 292.5 L461.5 292.3 L466.0 292.1 L470.5 292.3 L475.0 292.5 L479.5 292.4 L484.0 292.4 L488.5 292.3 L493.0 292.2 L497.5 292.6 L502.0 293.1 L506.5 292.7 L511.0 292.4 L515.5 292.5 L520.0 292.6 L524.5 293.0 L529.0 293.3 L533.5 293.2 L538.0 293.1 L542.5 293.2 L547.0 293.3 L551.5 293.3 L556.0 293.3 L560.5 292.7 L565.0 292.2 L569.5 292.3 L574.0 292.4 L578.5 292.3 L583.0 292.1 L587.5 292.5 L592.0 293.0 L596.5 293.0 L601.0 293.0 L605.5 292.8 L610.0 292.5 L614.5 292.6 L619.0 292.6 L623.5 292.8 L628.0 293.0 L632.5 293.0 L637.0 293.0 L641.5 292.7 L646.0 292.4 L650.5 292.8 L655.0 293.2 L659.5 292.9 L664.0 292.5 L668.5 292.7 L673.0 292.9 L677.5 292.6 L682.0 292.3 L686.5 292.2 L691.0 292.2 L695.5 292.8 L700.0 293.3 L704.5 293.2 L709.0 293.1 L713.5 293.1 L718.0 293.1 L722.5 292.6 L727.0 292.1 L731.5 292.1 L736.0 292.1 L740.5 292.2 L745.0 292.3 L749.5 292.3 L754.0 292.3 L758.5 292.4 L763.0 292.5 L767.5 292.5 L770.0 295.0 L770.0 297.4 L767.5 300.2 L763.0 300.7 L758.5 300.7 L754.0 300.6 L749.5 300.4 L745.0 300.2 L740.5 300.3 L736.0 300.4 L731.5 300.4 L727.0 300.5 L722.5 300.1 L718.0 299.8 L713.5 300.2 L709.0 300.6 L704.5 300.5 L700.0 300.3 L695.5 300.5 L691.0 300.7 L686.5 300.4 L682.0 300.0 L677.5 300.2 L673.0 300.3 L668.5 300.0 L664.0 299.7 L659.5 300.3 L655.0 300.8 L650.5 300.4 L646.0 300.0 L641.5 300.0 L637.0 300.0 L632.5 300.5 L628.0 300.9 L623.5 300.5 L619.0 300.2 L614.5 300.2 L610.0 300.3 L605.5 300.1 L601.0 299.9 L596.5 299.9 L592.0 299.9 L587.5 300.2 L583.0 300.5 L578.5 300.5 L574.0 300.5 L569.5 300.1 L565.0 299.7 L560.5 299.9 L556.0 300.0 L551.5 299.9 L547.0 299.8 L542.5 300.0 L538.0 300.1 L533.5 300.1 L529.0 300.0 L524.5 299.8 L520.0 299.6 L515.5 299.8 L511.0 299.9 L506.5 300.1 L502.0 300.3 L497.5 300.4 L493.0 300.4 L488.5 300.7 L484.0 300.9 L479.5 300.6 L475.0 300.3 L470.5 300.1 L466.0 299.9 L461.5 300.3 L457.0 300.7 L452.5 300.6 L448.0 300.5 L443.5 300.1 L439.0 299.6 L434.5 300.1 L430.0 300.6 L425.5 300.2 L421.0 299.7 L416.5 300.3 L412.0 300.9 L407.5 300.6 L403.0 300.3 L398.5 300.2 L394.0 300.1 L389.5 300.3 L385.0 300.5 L380.5 300.1 L376.0 299.6 L371.5 299.9 L367.0 300.2 L362.5 300.3 L358.0 300.4 L353.5 300.6 L349.0 300.7 L344.5 300.7 L340.0 300.6 L335.5 300.6 L331.0 300.5 L326.5 300.7 L322.0 300.9 L317.5 300.5 L313.0 300.1 L308.5 300.5 L304.0 300.9 L299.5 300.3 L295.0 299.7 L290.5 299.8 L286.0 299.9 L281.5 300.3 L277.0 300.7 L272.5 300.7 L268.0 300.6 L263.5 300.4 L259.0 300.1 L254.5 300.3 L250.0 300.5 L245.5 300.1 L241.0 299.7 L236.5 300.1 L232.0 300.6 L227.5 300.7 L223.0 300.8 L218.5 300.3 L214.0 299.8 L209.5 300.3 L205.0 300.7 L200.5 300.2 L196.0 299.7 L191.5 299.8 L187.0 299.9 L182.5 299.7 L178.0 299.6 L173.5 300.0 L169.0 300.4 L164.5 300.6 L160.0 300.8 L155.5 300.2 L151.0 299.6 L146.5 299.8 L142.0 299.9 L137.5 300.3 L133.0 300.6 L128.5 300.7 L124.0 300.7 L119.5 300.1 L115.0 299.5 L110.5 299.8 L106.0 300.0 L101.5 300.3 L97.0 300.5 L92.5 300.3 L88.0 300.2 L83.5 300.0 L79.0 299.9 L74.5 300.2 L70.0 300.6 L65.5 300.5 L61.0 300.4 L56.5 300.5 L52.0 300.7 L47.5 300.3 L43.0 299.8 L38.5 300.1 L34.0 300.4 L29.5 299.1 L25.0 297.5Z"/>
<path d="M765.0 295.8 L769.5 293.9 L774.0 293.8 L778.5 293.7 L783.0 293.6 L787.5 293.7 L792.0 293.9 L796.5 293.8 L801.0 293.8 L805.5 294.1 L810.0 294.5 L814.5 294.3 L819.0 294.1 L823.5 293.9 L828.0 293.6 L832.5 293.8 L837.0 293.9 L841.5 294.0 L846.0 294.1 L850.5 294.1 L855.0 294.0 L859.5 293.8 L864.0 293.7 L868.5 293.6 L873.0 293.8 L877.5 294.0 L882.0 294.2 L886.5 295.2 L891.0 296.2 L895.5 296.3 L900.0 296.4 L900.0 296.4 L900.0 297.5 L900.0 297.5 L895.5 297.8 L891.0 298.2 L886.5 298.4 L882.0 298.7 L877.5 299.3 L873.0 299.8 L868.5 300.2 L864.0 300.4 L859.5 300.2 L855.0 300.0 L850.5 300.0 L846.0 300.0 L841.5 300.2 L837.0 300.4 L832.5 299.8 L828.0 299.1 L823.5 299.5 L819.0 299.9 L814.5 299.6 L810.0 299.4 L805.5 299.5 L801.0 299.7 L796.5 299.8 L792.0 299.8 L787.5 299.5 L783.0 299.2 L778.5 299.6 L774.0 299.9 L769.5 300.2 L765.0 298.7Z"/>
<path d="M25.0 550.9 L29.5 549.1 L34.0 547.5 L38.5 547.8 L43.0 548.1 L47.5 547.9 L52.0 547.6 L56.5 548.0 L61.0 548.3 L65.5 547.7 L70.0 547.1 L74.5 547.4 L79.0 547.7 L83.5 548.0 L88.0 548.3 L92.5 547.9 L97.0 547.4 L101.5 547.4 L106.0 547.4 L110.5 547.2 L115.0 547.1 L119.5 547.2 L124.0 547.3 L128.5 547.3 L133.0 547.4 L137.5 547.7 L142.0 548.0 L146.5 547.7 L151.0 547.3 L155.5 547.5 L160.0 547.6 L164.5 547.5 L169.0 547.3 L173.5 547.6 L178.0 547.9 L182.5 548.1 L187.0 548.3 L191.5 548.1 L196.0 548.0 L200.5 547.6 L205.0 547.3 L209.5 547.7 L214.0 548.1 L218.5 548.3 L223.0 548.4 L227.5 548.2 L232.0 547.9 L236.5 547.5 L241.0 547.1 L245.5 547.7 L250.0 548.2 L254.5 548.2 L259.0 548.3 L263.5 547.9 L268.0 547.5 L272.5 547.4 L277.0 547.2 L281.5 547.3 L286.0 547.3 L290.5 547.6 L295.0 547.8 L299.5 548.0 L304.0 548.3 L308.5 548.1 L313.0 548.0 L317.5 548.2 L322.0 548.4 L326.5 547.8 L331.0 547.3 L335.5 547.4 L340.0 547.5 L344.5 547.8 L349.0 548.1 L353.5 548.0 L358.0 548.0 L362.5 547.8 L367.0 547.6 L371.5 547.8 L376.0 548.0 L380.5 547.8 L385.0 547.5 L389.5 547.3 L394.0 547.1 L398.5 547.4 L403.0 547.6 L407.5 547.4 L412.0 547.1 L416.5 547.5 L421.0 547.9 L425.5 547.7 L430.0 547.5 L434.5 547.6 L439.0 547.7 L443.5 547.8 L448.0 547.9 L452.5 547.6 L457.0 547.4 L461.5 547.5 L466.0 547.7 L470.5 547.4 L475.0 547.0 L479.5 547.7 L484.0 548.4 L488.5 548.1 L493.0 547.8 L497.5 548.1 L502.0 548.5 L506.5 547.8 L511.0 547.1 L515.5 547.5 L520.0 547.9 L524.5 548.0 L529.0 548.1 L533.5 547.8 L538.0 547.5 L542.5 547.3 L547.0 547.2 L551.5 547.2 L556.0 547.3 L560.5 547.2 L565.0 547.2 L569.5 547.7 L574.0 548.1 L578.5 547.6 L583.0 547.2 L587.5 547.7 L592.0 548.2 L596.5 547.9 L601.0 547.6 L605.5 547.7 L610.0 547.8 L614.5 547.8 L619.0 547.9 L623.5 547.9 L628.0 547.8 L632.5 547.9 L637.0 548.0 L641.5 547.9 L646.0 547.9 L650.5 547.7 L655.0 547.5 L659.5 547.8 L664.0 548.1 L668.5 547.7 L673.0 547.4 L677.5 547.7 L682.0 548.1 L686.5 548.1 L691.0 548.1 L695.5 548.1 L700.0 548.1 L704.5 547.8 L709.0 547.5 L713.5 547.8 L718.0 548.1 L722.5 548.3 L727.0 548.4 L731.5 548.1 L736.0 547.7 L740.5 547.6 L745.0 547.4 L749.5 547.6 L754.0 547.8 L758.5 548.1 L763.0 548.4 L767.5 547.8 L770.0 549.8 L770.0 553.4 L767.5 555.3 L763.0 554.7 L758.5 554.6 L754.0 554.6 L749.5 554.8 L745.0 555.0 L740.5 555.5 L736.0 556.0 L731.5 555.9 L727.0 555.8 L722.5 555.3 L718.0 554.8 L713.5 555.3 L709.0 555.8 L704.5 555.7 L700.0 555.7 L695.5 555.4 L691.0 555.0 L686.5 555.4 L682.0 555.8 L677.5 555.3 L673.0 554.8 L668.5 555.3 L664.0 555.8 L659.5 555.6 L655.0 555.4 L650.5 555.3 L646.0 555.2 L641.5 555.3 L637.0 555.4 L632.5 555.5 L628.0 555.5 L623.5 555.1 L619.0 554.8 L614.5 555.3 L610.0 555.8 L605.5 555.5 L601.0 555.2 L596.5 555.1 L592.0 555.0 L587.5 555.0 L583.0 554.9 L578.5 555.3 L574.0 555.7 L569.5 555.7 L565.0 555.6 L560.5 555.3 L556.0 554.9 L551.5 555.3 L547.0 555.8 L542.5 555.8 L538.0 555.8 L533.5 555.3 L529.0 554.8 L524.5 555.1 L520.0 555.4 L515.5 555.1 L511.0 554.8 L506.5 555.4 L502.0 556.0 L497.5 555.5 L493.0 555.0 L488.5 555.2 L484.0 555.5 L479.5 555.5 L475.0 555.6 L470.5 555.2 L466.0 554.8 L461.5 554.8 L457.0 554.9 L452.5 555.0 L448.0 555.2 L443.5 555.0 L439.0 554.9 L434.5 554.9 L430.0 554.9 L425.5 554.9 L421.0 554.9 L416.5 555.1 L412.0 555.4 L407.5 555.7 L403.0 555.9 L398.5 555.9 L394.0 555.9 L389.5 555.5 L385.0 555.1 L380.5 555.2 L376.0 555.3 L371.5 555.0 L367.0 554.6 L362.5 555.2 L358.0 555.8 L353.5 555.4 L349.0 555.1 L344.5 555.3 L340.0 555.5 L335.5 555.0 L331.0 554.6 L326.5 555.1 L322.0 555.6 L317.5 555.1 L313.0 554.7 L308.5 555.3 L304.0 555.8 L299.5 555.4 L295.0 555.0 L290.5 555.1 L286.0 555.2 L281.5 555.4 L277.0 555.7 L272.5 555.4 L268.0 555.0 L263.5 555.2 L259.0 555.4 L254.5 555.3 L250.0 555.2 L245.5 555.6 L241.0 555.9 L236.5 555.4 L232.0 554.9 L227.5 555.3 L223.0 555.7 L218.5 555.1 L214.0 554.6 L209.5 554.7 L205.0 554.8 L200.5 555.3 L196.0 555.9 L191.5 555.7 L187.0 555.6 L182.5 555.2 L178.0 554.8 L173.5 554.8 L169.0 554.7 L164.5 554.9 L160.0 555.1 L155.5 555.5 L151.0 555.9 L146.5 555.3 L142.0 554.8 L137.5 555.1 L133.0 555.3 L128.5 555.3 L124.0 555.3 L119.5 554.9 L115.0 554.6 L110.5 554.7 L106.0 554.7 L101.5 554.6 L97.0 554.6 L92.5 554.6 L88.0 554.7 L83.5 555.1 L79.0 555.6 L74.5 555.2 L70.0 554.9 L65.5 555.4 L61.0 556.0 L56.5 555.5 L52.0 555.1 L47.5 555.3 L43.0 555.6 L38.5 555.6 L34.0 555.5 L29.5 554.3 L25.0 552.8Z"/>
<path d="M765.0 551.6 L769.5 549.2 L774.0 548.7 L778.5 549.1 L783.0 549.5 L787.5 549.1 L792.0 548.6 L796.5 548.7 L801.0 548.7 L805.5 549.1 L810.0 549.5 L814.5 549.0 L819.0 548.6 L823.5 548.8 L828.0 549.0 L832.5 549.4 L837.0 549.8 L841.5 549.6 L846.0 549.5 L850.5 549.6 L855.0 549.7 L859.5 549.8 L864.0 549.9 L868.5 549.2 L873.0 548.7 L877.5 549.1 L882.0 549.5 L886.5 550.2 L891.0 550.9 L895.5 551.1 L900.0 551.3 L900.0 551.3 L900.0 553.0 L900.0 553.0 L895.5 553.4 L891.0 553.9 L886.5 553.7 L882.0 553.6 L877.5 554.2 L873.0 554.9 L868.5 554.7 L864.0 554.4 L859.5 554.5 L855.0 554.7 L850.5 554.5 L846.0 554.3 L841.5 554.5 L837.0 554.8 L832.5 554.5 L828.0 554.3 L823.5 554.8 L819.0 555.4 L814.5 555.0 L810.0 554.5 L805.5 555.0 L801.0 555.5 L796.5 554.8 L792.0 554.1 L787.5 554.2 L783.0 554.2 L778.5 554.5 L774.0 554.7 L769.5 554.6 L765.0 552.6Z"/>
<path d="M25.0 790.3 L29.5 789.3 L34.0 788.5 L38.5 788.0 L43.0 787.5 L47.5 788.0 L52.0 788.4 L56.5 788.6 L61.0 788.7 L65.5 788.3 L70.0 787.8 L74.5 787.6 L79.0 787.3 L83.5 787.6 L88.0 787.8 L92.5 788.0 L97.0 788.2 L101.5 787.9 L106.0 787.6 L110.5 787.8 L115.0 788.1 L119.5 787.7 L124.0 787.4 L128.5 787.7 L133.0 787.9 L137.5 788.1 L142.0 788.3 L146.5 788.1 L151.0 787.9 L155.5 788.1 L160.0 788.3 L164.5 787.9 L169.0 787.4 L173.5 788.0 L178.0 788.5 L182.5 788.0 L187.0 787.5 L191.5 788.0 L196.0 788.6 L200.5 788.7 L205.0 788.7 L209.5 788.7 L214.0 788.6 L218.5 788.3 L223.0 788.0 L227.5 787.9 L232.0 787.7 L236.5 787.7 L241.0 787.8 L245.5 788.1 L250.0 788.4 L254.5 788.2 L259.0 788.0 L263.5 788.3 L268.0 788.6 L272.5 788.0 L277.0 787.4 L281.5 787.7 L286.0 788.0 L290.5 788.3 L295.0 788.5 L299.5 788.3 L304.0 788.1 L308.5 788.1 L313.0 788.1 L317.5 787.7 L322.0 787.4 L326.5 787.4 L331.0 787.5 L335.5 787.6 L340.0 787.7 L344.5 788.1 L349.0 788.6 L353.5 788.5 L358.0 788.5 L362.5 788.1 L367.0 787.6 L371.5 788.1 L376.0 788.6 L380.5 788.0 L385.0 787.3 L389.5 787.7 L394.0 788.1 L398.5 788.4 L403.0 788.7 L407.5 788.2 L412.0 787.8 L416.5 788.2 L421.0 788.6 L425.5 788.4 L430.0 788.2 L434.5 787.8 L439.0 787.4 L443.5 787.6 L448.0 787.8 L452.5 787.8 L457.0 787.9 L461.5 787.8 L466.0 787.6 L470.5 788.0 L475.0 788.3 L479.5 787.9 L484.0 787.5 L488.5 788.0 L493.0 788.4 L497.5 788.1 L502.0 787.7 L506.5 787.5 L511.0 787.4 L515.5 787.7 L520.0 788.1 L524.5 787.8 L529.0 787.4 L533.5 787.7 L538.0 788.1 L542.5 788.2 L547.0 788.4 L551.5 788.3 L556.0 788.1 L560.5 788.0 L565.0 787.9 L569.5 787.6 L574.0 787.3 L578.5 787.7 L583.0 788.0 L587.5 787.7 L592.0 787.4 L596.5 787.8 L601.0 788.2 L605.5 787.8 L610.0 787.5 L614.5 787.8 L619.0 788.1 L623.5 788.0 L628.0 787.8 L632.5 787.8 L637.0 787.8 L641.5 788.0 L646.0 788.2 L650.5 787.9 L655.0 787.5 L659.5 787.5 L664.0 787.5 L668.5 788.1 L673.0 788.6 L677.5 788.2 L682.0 787.8 L686.5 788.1 L691.0 788.5 L695.5 788.5 L700.0 788.5 L704.5 788.3 L709.0 788.0 L713.5 787.7 L718.0 787.5 L722.5 787.5 L727.0 787.4 L731.5 788.0 L736.0 788.5 L740.5 788.0 L745.0 787.4 L749.5 787.7 L754.0 788.0 L758.5 788.0 L763.0 788.1 L767.5 787.8 L770.0 790.1 L770.0 793.8 L767.5 796.5 L763.0 796.6 L758.5 796.6 L754.0 796.6 L749.5 796.6 L745.0 796.5 L740.5 796.0 L736.0 795.5 L731.5 795.9 L727.0 796.4 L722.5 796.3 L718.0 796.2 L713.5 796.5 L709.0 796.7 L704.5 796.1 L700.0 795.5 L695.5 795.6 L691.0 795.8 L686.5 796.0 L682.0 796.3 L677.5 795.9 L673.0 795.4 L668.5 795.9 L664.0 796.4 L659.5 796.5 L655.0 796.5 L650.5 796.3 L646.0 796.2 L641.5 795.9 L637.0 795.6 L632.5 795.9 L628.0 796.2 L623.5 796.3 L619.0 796.4 L614.5 796.5 L610.0 796.6 L605.5 796.5 L601.0 796.4 L596.5 796.2 L592.0 796.0 L587.5 796.0 L583.0 796.0 L578.5 796.2 L574.0 796.4 L569.5 796.6 L565.0 796.7 L560.5 796.7 L556.0 796.7 L551.5 796.2 L547.0 795.8 L542.5 795.7 L538.0 795.6 L533.5 795.6 L529.0 795.6 L524.5 795.5 L520.0 795.5 L515.5 795.6 L511.0 795.8 L506.5 795.6 L502.0 795.5 L497.5 795.9 L493.0 796.3 L488.5 796.3 L484.0 796.3 L479.5 796.0 L475.0 795.6 L470.5 795.5 L466.0 795.4 L461.5 795.6 L457.0 795.9 L452.5 795.9 L448.0 795.9 L443.5 796.3 L439.0 796.6 L434.5 796.0 L430.0 795.3 L425.5 796.0 L421.0 796.6 L416.5 796.3 L412.0 795.9 L407.5 796.2 L403.0 796.4 L398.5 796.1 L394.0 795.8 L389.5 796.1 L385.0 796.5 L380.5 796.4 L376.0 796.3 L371.5 796.2 L367.0 796.2 L362.5 795.8 L358.0 795.3 L353.5 796.0 L349.0 796.7 L344.5 796.4 L340.0 796.1 L335.5 795.9 L331.0 795.6 L326.5 795.5 L322.0 795.4 L317.5 795.8 L313.0 796.3 L308.5 796.4 L304.0 796.4 L299.5 796.3 L295.0 796.1 L290.5 795.9 L286.0 795.6 L281.5 795.9 L277.0 796.1 L272.5 795.8 L268.0 795.4 L263.5 796.0 L259.0 796.6 L254.5 796.1 L250.0 795.7 L245.5 795.9 L241.0 796.0 L236.5 795.9 L232.0 795.8 L227.5 795.6 L223.0 795.3 L218.5 795.5 L214.0 795.7 L209.5 795.6 L205.0 795.5 L200.5 795.9 L196.0 796.4 L191.5 796.0 L187.0 795.6 L182.5 795.9 L178.0 796.3 L173.5 796.2 L169.0 796.1 L164.5 796.3 L160.0 796.4 L155.5 796.2 L151.0 796.0 L146.5 796.3 L142.0 796.6 L137.5 796.0 L133.0 795.3 L128.5 795.9 L124.0 796.6 L119.5 796.3 L115.0 796.0 L110.5 796.3 L106.0 796.5 L101.5 796.1 L97.0 795.6 L92.5 795.5 L88.0 795.5 L83.5 795.5 L79.0 795.6 L74.5 795.7 L70.0 795.9 L65.5 795.7 L61.0 795.6 L56.5 795.7 L52.0 795.8 L47.5 795.9 L43.0 796.0 L38.5 796.0 L34.0 796.1 L29.5 794.6 L25.0 792.9Z"/>
<path d="M765.0 791.9 L769.5 789.8 L774.0 789.6 L778.5 789.5 L783.0 789.4 L787.5 789.7 L792.0 790.0 L796.5 789.9 L801.0 789.9 L805.5 790.0 L810.0 790.0 L814.5 789.6 L819.0 789.2 L823.5 789.7 L828.0 790.2 L832.5 789.9 L837.0 789.5 L841.5 789.8 L846.0 790.1 L850.5 789.5 L855.0 788.9 L859.5 789.6 L864.0 790.2 L868.5 790.0 L873.0 790.1 L877.5 790.0 L882.0 789.9 L886.5 790.6 L891.0 791.4 L895.5 791.2 L900.0 791.1 L900.0 791.1 L900.0 793.3 L900.0 793.3 L895.5 794.0 L891.0 794.6 L886.5 794.8 L882.0 794.9 L877.5 794.8 L873.0 794.7 L868.5 795.1 L864.0 795.4 L859.5 795.7 L855.0 796.0 L850.5 796.1 L846.0 796.1 L841.5 795.9 L837.0 795.8 L832.5 795.8 L828.0 795.9 L823.5 795.9 L819.0 795.9 L814.5 795.6 L810.0 795.3 L805.5 795.6 L801.0 795.8 L796.5 795.8 L792.0 795.8 L787.5 795.9 L783.0 796.1 L778.5 795.8 L774.0 795.5 L769.5 795.3 L765.0 793.2Z"/>
<path d="M378.1 292.0 L376.1 296.5 L376.4 301.0 L376.5 305.5 L376.5 310.0 L376.0 314.5 L375.5 319.0 L375.4 323.5 L375.3 328.0 L375.4 332.5 L375.6 337.0 L375.9 341.5 L376.1 346.0 L376.0 350.5 L375.8 355.0 L375.6 359.5 L375.3 364.0 L375.9 368.5 L376.5 373.0 L376.4 377.5 L376.4 382.0 L376.2 386.5 L375.9 391.0 L375.6 395.5 L375.3 400.0 L376.0 404.5 L376.6 409.0 L376.3 413.5 L376.0 418.0 L375.7 422.5 L375.4 427.0 L375.6 431.5 L375.7 436.0 L376.0 440.5 L376.2 445.0 L376.4 449.5 L376.6 454.0 L376.3 458.5 L376.0 463.0 L376.1 467.5 L376.2 472.0 L375.9 476.5 L375.6 481.0 L375.6 485.5 L375.6 490.0 L376.1 494.5 L376.6 499.0 L376.2 503.5 L375.8 508.0 L375.6 512.5 L375.4 517.0 L375.8 521.5 L376.1 526.0 L375.8 530.5 L375.5 535.0 L375.5 539.5 L375.6 544.0 L375.8 548.5 L375.9 553.0 L376.0 557.5 L376.1 562.0 L376.2 566.5 L376.2 571.0 L376.2 575.5 L376.3 580.0 L376.1 584.5 L375.9 589.0 L375.6 593.5 L375.4 598.0 L375.9 602.5 L376.3 607.0 L375.8 611.5 L375.4 616.0 L375.7 620.5 L376.0 625.0 L375.9 629.5 L375.9 634.0 L376.1 638.5 L376.2 643.0 L376.3 647.5 L376.3 652.0 L376.0 656.5 L375.6 661.0 L375.9 665.5 L376.2 670.0 L376.2 674.5 L376.3 679.0 L376.1 683.5 L376.0 688.0 L375.7 692.5 L375.5 697.0 L376.0 701.5 L376.6 706.0 L376.4 710.5 L376.1 715.0 L375.8 719.5 L375.4 724.0 L375.5 728.5 L375.6 733.0 L376.2 737.5 L376.7 742.0 L376.2 746.5 L375.6 751.0 L375.7 755.5 L375.8 760.0 L376.1 764.5 L376.4 769.0 L376.4 773.5 L376.5 778.0 L376.3 782.5 L376.2 787.0 L376.3 791.5 L376.3 796.0 L375.8 800.5 L375.3 805.0 L375.4 809.5 L375.4 814.0 L376.1 818.5 L376.7 823.0 L376.6 827.5 L376.4 832.0 L375.9 836.5 L375.3 841.0 L375.3 845.5 L375.4 850.0 L375.5 854.5 L375.6 859.0 L376.1 863.5 L376.6 868.0 L376.1 872.5 L375.6 877.0 L375.9 881.5 L376.2 886.0 L376.4 890.5 L377.5 895.0 L378.3 899.5 L378.6 901.0 L381.2 901.0 L381.6 899.5 L382.7 895.0 L383.5 890.5 L383.4 886.0 L383.4 881.5 L383.3 877.0 L383.5 872.5 L383.6 868.0 L383.4 863.5 L383.2 859.0 L383.2 854.5 L383.2 850.0 L383.0 845.5 L382.9 841.0 L382.9 836.5 L382.9 832.0 L383.0 827.5 L383.0 823.0 L383.1 818.5 L383.1 814.0 L383.2 809.5 L383.3 805.0 L382.9 800.5 L382.4 796.0 L382.4 791.5 L382.4 787.0 L382.3 782.5 L382.3 778.0 L382.8 773.5 L383.4 769.0 L383.5 764.5 L383.7 760.0 L383.4 755.5 L383.2 751.0 L382.8 746.5 L382.5 742.0 L382.9 737.5 L383.4 733.0 L383.0 728.5 L382.7 724.0 L382.8 719.5 L382.8 715.0 L382.6 710.5 L382.4 706.0 L383.0 701.5 L383.5 697.0 L383.5 692.5 L383.5 688.0 L383.4 683.5 L383.3 679.0 L382.9 674.5 L382.4 670.0 L382.6 665.5 L382.8 661.0 L382.9 656.5 L383.1 652.0 L383.4 647.5 L383.7 643.0 L383.1 638.5 L382.4 634.0 L382.7 629.5 L382.9 625.0 L382.7 620.5 L382.6 616.0 L382.9 611.5 L383.2 607.0 L382.8 602.5 L382.5 598.0 L382.7 593.5 L382.9 589.0 L383.2 584.5 L383.4 580.0 L383.5 575.5 L383.5 571.0 L382.9 566.5 L382.3 562.0 L382.8 557.5 L383.4 553.0 L382.8 548.5 L382.3 544.0 L382.6 539.5 L382.9 535.0 L382.8 530.5 L382.7 526.0 L382.9 521.5 L383.1 517.0 L382.7 512.5 L382.4 508.0 L382.4 503.5 L382.4 499.0 L382.9 494.5 L383.4 490.0 L383.3 485.5 L383.1 481.0 L383.2 476.5 L383.2 472.0 L383.1 467.5 L383.0 463.0 L383.2 458.5 L383.5 454.0 L383.3 449.5 L383.1 445.0 L383.3 440.5 L383.5 436.0 L382.9 431.5 L382.3 427.0 L382.9 422.5 L383.6 418.0 L383.6 413.5 L383.6 409.0 L383.5 404.5 L383.4 400.0 L382.9 395.5 L382.4 391.0 L382.7 386.5 L383.0 382.0 L382.8 377.5 L382.5 373.0 L383.0 368.5 L383.4 364.0 L383.0 359.5 L382.5 355.0 L382.9 350.5 L383.3 346.0 L383.5 341.5 L383.7 337.0 L383.1 332.5 L382.4 328.0 L382.9 323.5 L383.4 319.0 L382.8 314.5 L382.3 310.0 L382.4 305.5 L382.5 301.0 L382.6 296.5 L380.4 292.0Z"/>
<path d="M706.4 163.0 L704.0 167.5 L703.9 172.0 L704.1 176.5 L704.4 181.0 L703.8 185.5 L703.3 190.0 L703.7 194.5 L704.1 199.0 L704.3 203.5 L704.4 208.0 L704.0 212.5 L703.5 217.0 L703.4 221.5 L703.2 226.0 L703.5 230.5 L703.8 235.0 L703.6 239.5 L703.3 244.0 L703.6 248.5 L703.8 253.0 L704.0 257.5 L704.2 262.0 L703.8 266.5 L703.3 271.0 L703.3 275.5 L703.3 280.0 L703.6 284.5 L703.9 289.0 L703.7 293.5 L703.4 298.0 L703.5 302.5 L703.5 307.0 L703.7 311.5 L703.8 316.0 L703.6 320.5 L703.4 325.0 L703.3 329.5 L703.3 334.0 L703.5 338.5 L703.7 343.0 L703.8 347.5 L703.9 352.0 L704.2 356.5 L704.5 361.0 L704.3 365.5 L704.0 370.0 L703.6 374.5 L703.3 379.0 L703.4 383.5 L703.5 388.0 L703.9 392.5 L704.3 397.0 L704.1 401.5 L704.0 406.0 L704.2 410.5 L704.4 415.0 L704.5 419.5 L704.6 424.0 L704.5 428.5 L704.4 433.0 L703.9 437.5 L703.3 442.0 L703.9 446.5 L704.5 451.0 L704.2 455.5 L703.9 460.0 L703.7 464.5 L703.5 469.0 L703.5 473.5 L703.4 478.0 L703.9 482.5 L704.4 487.0 L704.0 491.5 L703.5 496.0 L703.4 500.5 L703.3 505.0 L703.4 509.5 L703.6 514.0 L704.0 518.5 L704.5 523.0 L704.2 527.5 L703.8 532.0 L704.0 536.5 L704.2 541.0 L703.8 545.5 L703.3 550.0 L703.6 554.5 L703.8 559.0 L703.7 563.5 L703.6 568.0 L703.6 572.5 L703.5 577.0 L703.8 581.5 L704.1 586.0 L703.9 590.5 L703.7 595.0 L703.5 599.5 L703.4 604.0 L704.0 608.5 L704.6 613.0 L704.2 617.5 L703.9 622.0 L703.7 626.5 L703.4 631.0 L703.3 635.5 L703.2 640.0 L703.7 644.5 L704.1 649.0 L704.0 653.5 L703.9 658.0 L703.6 662.5 L703.2 667.0 L703.5 671.5 L703.9 676.0 L704.1 680.5 L704.2 685.0 L704.1 689.5 L704.0 694.0 L703.7 698.5 L703.5 703.0 L703.7 707.5 L703.9 712.0 L704.0 716.5 L704.1 721.0 L704.1 725.5 L704.1 730.0 L703.8 734.5 L703.4 739.0 L703.9 743.5 L704.3 748.0 L704.4 752.5 L704.5 757.0 L704.4 761.5 L704.2 766.0 L704.3 770.5 L704.4 775.0 L704.1 779.5 L703.7 784.0 L704.1 788.5 L704.5 793.0 L704.0 797.5 L703.4 802.0 L703.5 806.5 L703.5 811.0 L703.8 815.5 L704.0 820.0 L704.3 824.5 L704.5 829.0 L703.9 833.5 L703.3 838.0 L703.4 842.5 L703.5 847.0 L703.4 851.5 L703.2 856.0 L703.5 860.5 L703.8 865.0 L703.6 869.5 L703.4 874.0 L703.4 878.5 L703.5 883.0 L703.9 887.5 L705.2 892.0 L706.1 896.5 L706.4 898.0 L708.4 898.0 L708.7 896.5 L709.8 892.0 L711.1 887.5 L711.4 883.0 L711.0 878.5 L710.6 874.0 L710.9 869.5 L711.2 865.0 L711.4 860.5 L711.7 856.0 L711.1 851.5 L710.5 847.0 L710.6 842.5 L710.7 838.0 L711.2 833.5 L711.8 829.0 L711.7 824.5 L711.7 820.0 L711.6 815.5 L711.5 811.0 L711.4 806.5 L711.2 802.0 L711.3 797.5 L711.3 793.0 L711.0 788.5 L710.7 784.0 L710.6 779.5 L710.5 775.0 L710.8 770.5 L711.1 766.0 L711.2 761.5 L711.3 757.0 L711.4 752.5 L711.5 748.0 L711.6 743.5 L711.6 739.0 L711.4 734.5 L711.1 730.0 L711.1 725.5 L711.0 721.0 L711.3 716.5 L711.6 712.0 L711.7 707.5 L711.8 703.0 L711.3 698.5 L710.8 694.0 L710.8 689.5 L710.8 685.0 L710.6 680.5 L710.4 676.0 L710.5 671.5 L710.5 667.0 L711.1 662.5 L711.7 658.0 L711.1 653.5 L710.5 649.0 L710.7 644.5 L711.0 640.0 L711.4 635.5 L711.7 631.0 L711.3 626.5 L710.8 622.0 L711.3 617.5 L711.8 613.0 L711.7 608.5 L711.6 604.0 L711.5 599.5 L711.3 595.0 L711.5 590.5 L711.7 586.0 L711.3 581.5 L711.0 577.0 L711.0 572.5 L711.0 568.0 L711.1 563.5 L711.2 559.0 L710.9 554.5 L710.6 550.0 L710.7 545.5 L710.7 541.0 L710.6 536.5 L710.5 532.0 L711.1 527.5 L711.7 523.0 L711.4 518.5 L711.2 514.0 L711.2 509.5 L711.1 505.0 L710.9 500.5 L710.6 496.0 L710.6 491.5 L710.6 487.0 L711.2 482.5 L711.8 478.0 L711.2 473.5 L710.6 469.0 L710.6 464.5 L710.7 460.0 L710.7 455.5 L710.6 451.0 L711.0 446.5 L711.4 442.0 L711.3 437.5 L711.2 433.0 L711.1 428.5 L711.0 424.0 L710.9 419.5 L710.8 415.0 L711.0 410.5 L711.3 406.0 L710.8 401.5 L710.4 397.0 L711.0 392.5 L711.6 388.0 L711.1 383.5 L710.6 379.0 L710.8 374.5 L710.9 370.0 L710.7 365.5 L710.4 361.0 L710.9 356.5 L711.3 352.0 L711.1 347.5 L710.9 343.0 L710.9 338.5 L711.0 334.0 L710.9 329.5 L710.8 325.0 L711.3 320.5 L711.8 316.0 L711.2 311.5 L710.7 307.0 L710.9 302.5 L711.0 298.0 L711.4 293.5 L711.8 289.0 L711.2 284.5 L710.7 280.0 L711.1 275.5 L711.6 271.0 L711.1 266.5 L710.7 262.0 L711.0 257.5 L711.3 253.0 L711.5 248.5 L711.8 244.0 L711.4 239.5 L711.1 235.0 L711.4 230.5 L711.7 226.0 L711.4 221.5 L711.1 217.0 L711.1 212.5 L711.1 208.0 L710.9 203.5 L710.7 199.0 L711.2 194.5 L711.7 190.0 L711.1 185.5 L710.4 181.0 L710.9 176.5 L711.4 172.0 L711.2 167.5 L708.6 163.0Z"/></g><g fill="#f6cd3c"><rect x="1013.8" y="780.0" width="1.6" height="9.2" rx="0.8" fill-opacity="0.46"/>
<rect x="1015.3" y="790.5" width="2.4" height="7.0" rx="1.2" fill-opacity="0.50"/>
<rect x="1015.3" y="800.5" width="2.5" height="6.3" rx="1.2" fill-opacity="0.37"/>
<rect x="1013.5" y="831.9" width="2.0" height="6.3" rx="1.0" fill-opacity="0.39"/>
<rect x="1012.8" y="865.0" width="2.6" height="12.2" rx="1.3" fill-opacity="0.27"/>
<rect x="1013.1" y="883.1" width="2.0" height="9.0" rx="1.0" fill-opacity="0.30"/>
<rect x="18.0" y="165.7" width="13.7" height="1.7" rx="0.9" fill-opacity="0.17" transform="rotate(6 24.9 166.6)"/>
<rect x="55.2" y="169.0" width="7.3" height="4.6" rx="2.3" fill-opacity="0.21" transform="rotate(3 58.9 171.3)"/>
<rect x="65.6" y="166.5" width="7.7" height="1.5" rx="0.8" fill-opacity="0.26" transform="rotate(-2 69.5 167.2)"/>
<rect x="98.0" y="167.3" width="8.3" height="3.0" rx="1.5" fill-opacity="0.46" transform="rotate(-5 102.1 168.9)"/>
<rect x="108.8" y="166.1" width="13.0" height="4.8" rx="2.4" fill-opacity="0.46" transform="rotate(-7 115.2 168.5)"/>
<rect x="152.0" y="166.7" width="6.6" height="2.6" rx="1.3" fill-opacity="0.39" transform="rotate(4 155.3 168.0)"/>
<rect x="172.8" y="168.7" width="6.3" height="5.4" rx="2.7" fill-opacity="0.54" transform="rotate(-4 176.0 171.4)"/>
<rect x="18.0" y="424.6" width="12.6" height="2.2" rx="1.1" fill-opacity="0.13" transform="rotate(-5 24.3 425.7)"/>
<rect x="36.2" y="422.2" width="13.8" height="3.5" rx="1.8" fill-opacity="0.26" transform="rotate(-5 43.1 424.0)"/>
<rect x="64.0" y="420.3" width="13.4" height="4.4" rx="2.2" fill-opacity="0.29" transform="rotate(-6 70.7 422.5)"/>
<rect x="104.7" y="425.2" width="8.0" height="1.9" rx="0.9" fill-opacity="0.47" transform="rotate(-8 108.7 426.1)"/>
<rect x="133.3" y="423.1" width="8.6" height="4.6" rx="2.3" fill-opacity="0.50" transform="rotate(-2 137.6 425.4)"/>
<rect x="151.9" y="421.3" width="11.4" height="4.7" rx="2.3" fill-opacity="0.54" transform="rotate(-6 157.6 423.7)"/>
<rect x="165.3" y="421.0" width="12.9" height="2.7" rx="1.4" fill-opacity="0.61" transform="rotate(5 171.7 422.4)"/>
<rect x="179.2" y="421.3" width="5.6" height="3.6" rx="1.8" fill-opacity="0.49" transform="rotate(-3 182.0 423.1)"/>
<rect x="18.0" y="665.8" width="6.0" height="1.7" rx="0.9" fill-opacity="0.18" transform="rotate(6 21.0 666.6)"/>
<rect x="43.5" y="664.0" width="10.0" height="5.8" rx="2.9" fill-opacity="0.21" transform="rotate(1 48.5 666.8)"/>
<rect x="74.6" y="668.7" width="8.5" height="5.9" rx="3.0" fill-opacity="0.28" transform="rotate(-7 78.9 671.6)"/>
<rect x="97.6" y="668.3" width="12.4" height="4.7" rx="2.3" fill-opacity="0.41" transform="rotate(8 103.8 670.6)"/>
<rect x="121.0" y="667.1" width="10.8" height="4.9" rx="2.4" fill-opacity="0.35" transform="rotate(-3 126.4 669.5)"/>
<rect x="133.5" y="665.8" width="5.2" height="2.6" rx="1.3" fill-opacity="0.39" transform="rotate(3 136.2 667.1)"/>
<rect x="139.8" y="663.6" width="11.2" height="5.6" rx="2.8" fill-opacity="0.42" transform="rotate(7 145.3 666.4)"/>
<rect x="154.2" y="667.7" width="12.9" height="1.9" rx="1.0" fill-opacity="0.63" transform="rotate(5 160.6 668.7)"/>
<rect x="169.4" y="669.0" width="8.5" height="3.6" rx="1.8" fill-opacity="0.60" transform="rotate(-6 173.6 670.8)"/>
<rect x="179.1" y="668.2" width="4.6" height="2.1" rx="1.1" fill-opacity="0.69" transform="rotate(-4 181.3 669.3)"/>
<rect x="860.0" y="292.2" width="13.9" height="4.6" rx="2.3" fill-opacity="0.57" transform="rotate(-5 867.0 294.5)"/>
<rect x="875.8" y="292.5" width="9.6" height="4.4" rx="2.2" fill-opacity="0.44" transform="rotate(-4 880.7 294.7)"/>
<rect x="886.7" y="293.8" width="4.2" height="2.6" rx="1.3" fill-opacity="0.59" transform="rotate(-1 888.8 295.1)"/>
<rect x="919.6" y="295.8" width="11.5" height="4.1" rx="2.0" fill-opacity="0.52" transform="rotate(-6 925.3 297.8)"/>
<rect x="947.1" y="292.7" width="4.4" height="3.6" rx="1.8" fill-opacity="0.43" transform="rotate(-6 949.3 294.5)"/>
<rect x="955.3" y="293.4" width="10.8" height="3.2" rx="1.6" fill-opacity="0.42" transform="rotate(1 960.6 295.0)"/>
<rect x="967.4" y="296.9" width="4.2" height="2.2" rx="1.1" fill-opacity="0.33" transform="rotate(-3 969.5 298.0)"/>
<rect x="975.0" y="296.6" width="7.8" height="3.5" rx="1.8" fill-opacity="0.33" transform="rotate(5 978.9 298.4)"/>
<rect x="860.0" y="548.0" width="7.4" height="2.3" rx="1.1" fill-opacity="0.62" transform="rotate(-7 863.7 549.1)"/>
<rect x="868.2" y="549.4" width="11.2" height="2.4" rx="1.2" fill-opacity="0.68" transform="rotate(-7 873.8 550.6)"/>
<rect x="880.9" y="548.9" width="12.6" height="4.5" rx="2.2" fill-opacity="0.58" transform="rotate(-2 887.2 551.1)"/>
<rect x="894.2" y="551.3" width="8.4" height="2.6" rx="1.3" fill-opacity="0.49" transform="rotate(2 898.4 552.6)"/>
<rect x="905.0" y="549.4" width="7.5" height="5.0" rx="2.5" fill-opacity="0.41" transform="rotate(8 908.8 551.9)"/>
<rect x="914.9" y="549.8" width="7.7" height="1.8" rx="0.9" fill-opacity="0.52" transform="rotate(-2 918.8 550.6)"/>
<rect x="936.5" y="549.7" width="4.3" height="3.2" rx="1.6" fill-opacity="0.47" transform="rotate(-1 938.6 551.3)"/>
<rect x="943.0" y="549.7" width="12.9" height="3.4" rx="1.7" fill-opacity="0.45" transform="rotate(3 949.5 551.5)"/>
<rect x="959.0" y="550.6" width="8.0" height="3.6" rx="1.8" fill-opacity="0.39" transform="rotate(4 963.0 552.4)"/>
<rect x="968.5" y="552.1" width="6.2" height="1.9" rx="0.9" fill-opacity="0.26" transform="rotate(4 971.6 553.1)"/>
<rect x="869.8" y="793.2" width="5.9" height="2.3" rx="1.2" fill-opacity="0.52" transform="rotate(-1 872.7 794.4)"/>
<rect x="876.4" y="788.7" width="6.6" height="5.5" rx="2.7" fill-opacity="0.49" transform="rotate(-5 879.7 791.4)"/>
<rect x="885.2" y="790.4" width="8.5" height="4.7" rx="2.3" fill-opacity="0.49" transform="rotate(-6 889.4 792.7)"/>
<rect x="895.8" y="790.6" width="8.7" height="4.6" rx="2.3" fill-opacity="0.45" transform="rotate(-2 900.1 792.9)"/>
<rect x="907.1" y="791.4" width="9.3" height="2.6" rx="1.3" fill-opacity="0.54" transform="rotate(-7 911.8 792.7)"/>
<rect x="919.1" y="793.1" width="9.7" height="2.6" rx="1.3" fill-opacity="0.39" transform="rotate(-7 923.9 794.3)"/>
<rect x="930.9" y="789.1" width="11.5" height="4.8" rx="2.4" fill-opacity="0.34" transform="rotate(-3 936.7 791.5)"/>
<rect x="945.1" y="790.7" width="13.7" height="4.7" rx="2.3" fill-opacity="0.36" transform="rotate(7 951.9 793.0)"/>
<rect x="961.9" y="792.2" width="7.4" height="2.9" rx="1.5" fill-opacity="0.29" transform="rotate(6 965.6 793.6)"/>
<rect x="377.9" y="176.0" width="2.3" height="5.9" rx="1.1" fill-opacity="0.37"/>
<rect x="377.8" y="184.7" width="2.9" height="6.0" rx="1.4" fill-opacity="0.54"/>
<rect x="377.2" y="210.0" width="1.2" height="11.2" rx="0.6" fill-opacity="0.52"/>
<rect x="377.6" y="224.0" width="1.6" height="10.3" rx="0.8" fill-opacity="0.47"/>
<rect x="376.7" y="237.9" width="2.1" height="7.1" rx="1.0" fill-opacity="0.53"/>
<rect x="376.6" y="248.0" width="1.6" height="8.6" rx="0.8" fill-opacity="0.50"/>
<rect x="378.2" y="285.7" width="1.7" height="5.1" rx="0.9" fill-opacity="0.39"/>
<rect x="379.0" y="291.7" width="3.6" height="13.1" rx="1.8" fill-opacity="0.43"/>
<rect x="703.6" y="38.6" width="2.5" height="9.9" rx="1.2" fill-opacity="0.41"/>
<rect x="703.3" y="49.4" width="1.5" height="4.7" rx="0.7" fill-opacity="0.38"/>
<rect x="702.5" y="55.7" width="2.6" height="13.7" rx="1.3" fill-opacity="0.41"/>
<rect x="704.1" y="70.3" width="2.0" height="7.0" rx="1.0" fill-opacity="0.57"/>
<rect x="705.0" y="78.1" width="1.3" height="13.3" rx="0.6" fill-opacity="0.61"/>
<rect x="704.2" y="92.5" width="1.7" height="12.6" rx="0.8" fill-opacity="0.42"/>
<rect x="703.9" y="106.0" width="2.3" height="13.0" rx="1.1" fill-opacity="0.62"/>
<rect x="705.2" y="120.0" width="1.9" height="5.4" rx="0.9" fill-opacity="0.64"/>
<rect x="701.5" y="126.9" width="2.7" height="6.2" rx="1.4" fill-opacity="0.50"/>
<rect x="702.0" y="135.3" width="2.6" height="7.6" rx="1.3" fill-opacity="0.55"/>
<rect x="702.3" y="144.1" width="2.6" height="9.2" rx="1.3" fill-opacity="0.57"/>
<rect x="702.7" y="154.5" width="1.6" height="11.6" rx="0.8" fill-opacity="0.62"/></g><g><rect x="1015.7" y="707.5" width="0.7" height="10.4" fill="#fff" fill-opacity="0.73"/>
<rect x="1013.0" y="757.4" width="0.8" height="19.8" fill="#fff" fill-opacity="0.61"/>
<rect x="1015.6" y="737.2" width="1.3" height="13.1" fill="#fff" fill-opacity="0.89"/>
<rect x="1014.8" y="703.9" width="1.3" height="6.5" fill="#fff" fill-opacity="0.71"/>
<rect x="1013.6" y="753.7" width="1.3" height="6.0" fill="#fff" fill-opacity="0.87"/>
<rect x="1013.1" y="777.3" width="0.7" height="21.6" fill="#fff" fill-opacity="0.57"/>
<rect x="1015.6" y="748.0" width="1.2" height="16.9" fill="#fff" fill-opacity="0.79"/>
<rect x="1014.2" y="769.3" width="0.6" height="13.3" fill="#fff" fill-opacity="0.85"/>
<rect x="1014.5" y="722.5" width="0.8" height="20.7" fill="#fff" fill-opacity="0.56"/>
<rect x="1014.7" y="724.2" width="0.7" height="16.2" fill="#fff" fill-opacity="0.53"/>
<rect x="248.1" y="170.6" width="7.9" height="0.8" fill="#fff" fill-opacity="0.76" transform="rotate(-2 248.1 171.1)"/>
<rect x="257.3" y="167.8" width="9.2" height="0.8" fill="#fff" fill-opacity="0.57" transform="rotate(5 257.3 168.3)"/>
<rect x="237.3" y="168.5" width="11.2" height="1.4" fill="#fff" fill-opacity="0.73" transform="rotate(-3 237.3 169.0)"/>
<rect x="266.1" y="171.4" width="16.5" height="0.7" fill="#fff" fill-opacity="0.71" transform="rotate(4 266.1 171.9)"/>
<rect x="270.1" y="166.8" width="20.6" height="0.8" fill="#fff" fill-opacity="0.55" transform="rotate(-4 270.1 167.3)"/>
<rect x="286.6" y="171.1" width="15.3" height="0.9" fill="#fff" fill-opacity="0.89" transform="rotate(-1 286.6 171.6)"/>
<rect x="197.5" y="171.1" width="18.4" height="0.7" fill="#fff" fill-opacity="0.77" transform="rotate(1 197.5 171.6)"/>
<rect x="192.2" y="167.3" width="11.9" height="0.8" fill="#fff" fill-opacity="0.61" transform="rotate(1 192.2 167.8)"/>
<rect x="246.5" y="166.7" width="9.3" height="0.9" fill="#fff" fill-opacity="0.81" transform="rotate(-4 246.5 167.2)"/>
<rect x="204.0" y="170.4" width="9.3" height="1.0" fill="#fff" fill-opacity="0.53" transform="rotate(-5 204.0 170.9)"/>
<rect x="214.4" y="169.7" width="14.8" height="0.7" fill="#fff" fill-opacity="0.57" transform="rotate(2 214.4 170.2)"/>
<rect x="216.2" y="168.1" width="10.5" height="1.4" fill="#fff" fill-opacity="0.64" transform="rotate(1 216.2 168.6)"/>
<rect x="209.6" y="170.7" width="12.7" height="1.4" fill="#fff" fill-opacity="0.66" transform="rotate(-4 209.6 171.2)"/>
<rect x="256.0" y="166.6" width="9.3" height="1.3" fill="#fff" fill-opacity="0.69" transform="rotate(4 256.0 167.1)"/>
<rect x="215.8" y="168.8" width="20.1" height="0.7" fill="#fff" fill-opacity="0.51" transform="rotate(1 215.8 169.3)"/>
<rect x="245.1" y="167.0" width="20.6" height="1.1" fill="#fff" fill-opacity="0.67" transform="rotate(0 245.1 167.5)"/>
<rect x="183.2" y="169.1" width="10.5" height="1.3" fill="#fff" fill-opacity="0.55" transform="rotate(-0 183.2 169.6)"/>
<rect x="265.6" y="167.5" width="21.5" height="0.7" fill="#fff" fill-opacity="0.92" transform="rotate(6 265.6 168.0)"/>
<rect x="225.3" y="171.0" width="6.9" height="0.9" fill="#fff" fill-opacity="0.91" transform="rotate(1 225.3 171.5)"/>
<rect x="268.1" y="170.4" width="8.6" height="0.8" fill="#fff" fill-opacity="0.68" transform="rotate(4 268.1 170.9)"/>
<rect x="325.9" y="168.5" width="15.7" height="1.1" fill="#fff" fill-opacity="0.87" transform="rotate(-4 325.9 169.0)"/>
<rect x="345.7" y="165.6" width="10.8" height="1.3" fill="#fff" fill-opacity="0.85" transform="rotate(3 345.7 166.1)"/>
<rect x="291.1" y="170.1" width="19.5" height="1.0" fill="#fff" fill-opacity="0.83" transform="rotate(-1 291.1 170.6)"/>
<rect x="330.7" y="166.8" width="7.7" height="0.6" fill="#fff" fill-opacity="0.65" transform="rotate(3 330.7 167.3)"/>
<rect x="415.1" y="169.9" width="19.5" height="0.8" fill="#fff" fill-opacity="0.75" transform="rotate(-1 415.1 170.4)"/>
<rect x="431.9" y="167.0" width="14.4" height="1.1" fill="#fff" fill-opacity="0.93" transform="rotate(-3 431.9 167.5)"/>
<rect x="448.4" y="167.0" width="6.2" height="0.8" fill="#fff" fill-opacity="0.83" transform="rotate(5 448.4 167.5)"/>
<rect x="424.3" y="170.9" width="11.2" height="0.9" fill="#fff" fill-opacity="0.61" transform="rotate(5 424.3 171.4)"/>
<rect x="403.5" y="169.6" width="17.1" height="1.4" fill="#fff" fill-opacity="0.71" transform="rotate(4 403.5 170.1)"/>
<rect x="415.6" y="168.1" width="19.7" height="1.2" fill="#fff" fill-opacity="0.76" transform="rotate(-2 415.6 168.6)"/>
<rect x="328.2" y="165.8" width="16.0" height="1.3" fill="#fff" fill-opacity="0.57" transform="rotate(-6 328.2 166.3)"/>
<rect x="309.2" y="167.5" width="20.9" height="0.7" fill="#fff" fill-opacity="0.51" transform="rotate(-6 309.2 168.0)"/>
<rect x="837.1" y="169.8" width="16.1" height="1.2" fill="#fff" fill-opacity="0.53" transform="rotate(1 837.1 170.3)"/>
<rect x="662.6" y="170.5" width="19.1" height="1.3" fill="#fff" fill-opacity="0.53" transform="rotate(4 662.6 171.0)"/>
<rect x="954.6" y="166.0" width="21.1" height="0.8" fill="#fff" fill-opacity="0.55" transform="rotate(-6 954.6 166.5)"/>
<rect x="919.3" y="169.4" width="19.0" height="1.3" fill="#fff" fill-opacity="0.78" transform="rotate(-3 919.3 169.9)"/>
<rect x="522.9" y="170.1" width="7.6" height="0.8" fill="#fff" fill-opacity="0.64" transform="rotate(-1 522.9 170.6)"/>
<rect x="481.1" y="167.1" width="10.1" height="1.2" fill="#fff" fill-opacity="0.67" transform="rotate(-2 481.1 167.6)"/>
<rect x="980.9" y="170.7" width="14.1" height="1.1" fill="#fff" fill-opacity="0.51" transform="rotate(-1 980.9 171.2)"/>
<rect x="701.3" y="167.5" width="18.4" height="1.2" fill="#fff" fill-opacity="0.74" transform="rotate(-3 701.3 168.0)"/>
<rect x="255.3" y="425.3" width="20.1" height="1.2" fill="#fff" fill-opacity="0.88" transform="rotate(2 255.3 425.8)"/>
<rect x="245.2" y="423.1" width="13.3" height="1.1" fill="#fff" fill-opacity="0.54" transform="rotate(-1 245.2 423.6)"/>
<rect x="262.8" y="424.6" width="17.4" height="0.8" fill="#fff" fill-opacity="0.69" transform="rotate(-1 262.8 425.1)"/>
<rect x="242.7" y="424.8" width="12.5" height="1.3" fill="#fff" fill-opacity="0.58" transform="rotate(2 242.7 425.3)"/>
<rect x="262.3" y="424.0" width="12.2" height="1.4" fill="#fff" fill-opacity="0.52" transform="rotate(1 262.3 424.5)"/>
<rect x="185.1" y="426.1" width="18.5" height="1.0" fill="#fff" fill-opacity="0.55" transform="rotate(1 185.1 426.6)"/>
<rect x="232.6" y="424.1" width="17.5" height="1.1" fill="#fff" fill-opacity="0.87" transform="rotate(0 232.6 424.6)"/>
<rect x="216.3" y="422.6" width="21.2" height="1.1" fill="#fff" fill-opacity="0.68" transform="rotate(3 216.3 423.1)"/>
<rect x="180.3" y="423.3" width="21.8" height="0.6" fill="#fff" fill-opacity="0.62" transform="rotate(-1 180.3 423.8)"/>
<rect x="166.7" y="423.6" width="12.7" height="1.2" fill="#fff" fill-opacity="0.66" transform="rotate(-3 166.7 424.1)"/>
<rect x="193.1" y="426.1" width="17.9" height="1.0" fill="#fff" fill-opacity="0.60" transform="rotate(4 193.1 426.6)"/>
<rect x="214.0" y="422.2" width="9.4" height="1.2" fill="#fff" fill-opacity="0.86" transform="rotate(2 214.0 422.7)"/>
<rect x="223.6" y="422.7" width="15.0" height="1.4" fill="#fff" fill-opacity="0.66" transform="rotate(2 223.6 423.2)"/>
<rect x="267.3" y="423.8" width="19.1" height="0.8" fill="#fff" fill-opacity="0.75" transform="rotate(-4 267.3 424.3)"/>
<rect x="269.2" y="425.7" width="11.7" height="0.8" fill="#fff" fill-opacity="0.67" transform="rotate(-3 269.2 426.2)"/>
<rect x="218.3" y="421.6" width="9.0" height="1.2" fill="#fff" fill-opacity="0.63" transform="rotate(-3 218.3 422.1)"/>
<rect x="202.7" y="423.7" width="13.7" height="1.1" fill="#fff" fill-opacity="0.80" transform="rotate(-2 202.7 424.2)"/>
<rect x="281.1" y="421.9" width="19.7" height="1.3" fill="#fff" fill-opacity="0.91" transform="rotate(3 281.1 422.4)"/>
<rect x="182.6" y="424.6" width="19.3" height="0.6" fill="#fff" fill-opacity="0.51" transform="rotate(5 182.6 425.1)"/>
<rect x="247.0" y="422.1" width="10.0" height="0.7" fill="#fff" fill-opacity="0.61" transform="rotate(3 247.0 422.6)"/>
<rect x="292.7" y="425.5" width="16.4" height="0.7" fill="#fff" fill-opacity="0.64" transform="rotate(3 292.7 426.0)"/>
<rect x="319.9" y="423.4" width="19.8" height="0.6" fill="#fff" fill-opacity="0.67" transform="rotate(1 319.9 423.9)"/>
<rect x="369.0" y="421.2" width="16.8" height="1.2" fill="#fff" fill-opacity="0.66" transform="rotate(2 369.0 421.7)"/>
<rect x="403.3" y="422.8" width="12.7" height="1.2" fill="#fff" fill-opacity="0.93" transform="rotate(3 403.3 423.3)"/>
<rect x="392.0" y="420.7" width="10.7" height="1.4" fill="#fff" fill-opacity="0.82" transform="rotate(4 392.0 421.2)"/>
<rect x="349.8" y="426.6" width="15.7" height="1.3" fill="#fff" fill-opacity="0.77" transform="rotate(-2 349.8 427.1)"/>
<rect x="367.1" y="422.7" width="20.2" height="1.1" fill="#fff" fill-opacity="0.77" transform="rotate(5 367.1 423.2)"/>
<rect x="435.3" y="420.3" width="10.5" height="0.8" fill="#fff" fill-opacity="0.69" transform="rotate(1 435.3 420.8)"/>
<rect x="436.9" y="420.6" width="20.2" height="1.3" fill="#fff" fill-opacity="0.87" transform="rotate(4 436.9 421.1)"/>
<rect x="392.9" y="425.7" width="10.4" height="1.2" fill="#fff" fill-opacity="0.81" transform="rotate(5 392.9 426.2)"/>
<rect x="352.4" y="423.8" width="7.4" height="1.2" fill="#fff" fill-opacity="0.59" transform="rotate(3 352.4 424.3)"/>
<rect x="457.7" y="424.2" width="9.7" height="1.1" fill="#fff" fill-opacity="0.71" transform="rotate(-4 457.7 424.7)"/>
<rect x="605.0" y="425.4" width="18.0" height="1.0" fill="#fff" fill-opacity="0.54" transform="rotate(4 605.0 425.9)"/>
<rect x="879.2" y="424.0" width="9.7" height="1.3" fill="#fff" fill-opacity="0.90" transform="rotate(0 879.2 424.5)"/>
<rect x="722.6" y="421.5" width="15.4" height="0.8" fill="#fff" fill-opacity="0.58" transform="rotate(2 722.6 422.0)"/>
<rect x="662.3" y="422.9" width="15.0" height="1.0" fill="#fff" fill-opacity="0.57" transform="rotate(-5 662.3 423.4)"/>
<rect x="998.5" y="421.0" width="12.0" height="1.1" fill="#fff" fill-opacity="0.85" transform="rotate(-4 998.5 421.5)"/>
<rect x="786.5" y="423.6" width="11.5" height="0.6" fill="#fff" fill-opacity="0.52" transform="rotate(6 786.5 424.1)"/>
<rect x="929.0" y="423.9" width="13.8" height="0.8" fill="#fff" fill-opacity="0.85" transform="rotate(-1 929.0 424.4)"/>
<rect x="971.6" y="425.5" width="18.3" height="1.4" fill="#fff" fill-opacity="0.61" transform="rotate(-6 971.6 426.0)"/>
<rect x="182.5" y="670.7" width="6.0" height="1.0" fill="#fff" fill-opacity="0.58" transform="rotate(-1 182.5 671.2)"/>
<rect x="279.0" y="669.4" width="9.5" height="0.7" fill="#fff" fill-opacity="0.58" transform="rotate(3 279.0 669.9)"/>
<rect x="254.0" y="666.9" width="9.1" height="0.7" fill="#fff" fill-opacity="0.77" transform="rotate(-0 254.0 667.4)"/>
<rect x="199.2" y="669.6" width="9.3" height="1.2" fill="#fff" fill-opacity="0.87" transform="rotate(1 199.2 670.1)"/>
<rect x="190.3" y="670.2" width="7.1" height="0.9" fill="#fff" fill-opacity="0.82" transform="rotate(-5 190.3 670.7)"/>
<rect x="266.3" y="670.7" width="11.4" height="1.3" fill="#fff" fill-opacity="0.72" transform="rotate(-6 266.3 671.2)"/>
<rect x="278.8" y="670.9" width="13.6" height="0.8" fill="#fff" fill-opacity="0.58" transform="rotate(4 278.8 671.4)"/>
<rect x="210.9" y="668.3" width="8.6" height="1.1" fill="#fff" fill-opacity="0.50" transform="rotate(0 210.9 668.8)"/>
<rect x="220.7" y="667.1" width="14.3" height="1.2" fill="#fff" fill-opacity="0.87" transform="rotate(4 220.7 667.6)"/>
<rect x="205.1" y="668.4" width="17.4" height="1.2" fill="#fff" fill-opacity="0.53" transform="rotate(4 205.1 668.9)"/>
<rect x="284.3" y="669.1" width="13.9" height="1.0" fill="#fff" fill-opacity="0.74" transform="rotate(-6 284.3 669.6)"/>
<rect x="285.9" y="667.4" width="9.6" height="0.7" fill="#fff" fill-opacity="0.61" transform="rotate(4 285.9 667.9)"/>
<rect x="168.8" y="670.0" width="7.5" height="0.8" fill="#fff" fill-opacity="0.51" transform="rotate(1 168.8 670.5)"/>
<rect x="237.1" y="670.0" width="14.4" height="0.7" fill="#fff" fill-opacity="0.89" transform="rotate(3 237.1 670.5)"/>
<rect x="170.6" y="669.0" width="8.0" height="1.0" fill="#fff" fill-opacity="0.63" transform="rotate(-5 170.6 669.5)"/>
<rect x="215.7" y="669.5" width="8.2" height="1.3" fill="#fff" fill-opacity="0.57" transform="rotate(1 215.7 670.0)"/>
<rect x="258.3" y="670.7" width="8.6" height="1.4" fill="#fff" fill-opacity="0.67" transform="rotate(-1 258.3 671.2)"/>
<rect x="270.0" y="668.5" width="14.4" height="1.4" fill="#fff" fill-opacity="0.85" transform="rotate(-2 270.0 669.0)"/>
<rect x="195.0" y="668.7" width="11.4" height="1.4" fill="#fff" fill-opacity="0.86" transform="rotate(5 195.0 669.2)"/>
<rect x="266.9" y="666.7" width="19.6" height="1.0" fill="#fff" fill-opacity="0.93" transform="rotate(5 266.9 667.2)"/>
<rect x="369.2" y="671.9" width="16.0" height="0.9" fill="#fff" fill-opacity="0.74" transform="rotate(4 369.2 672.4)"/>
<rect x="320.7" y="671.8" width="11.1" height="1.3" fill="#fff" fill-opacity="0.73" transform="rotate(-5 320.7 672.3)"/>
<rect x="451.0" y="670.7" width="17.0" height="1.4" fill="#fff" fill-opacity="0.90" transform="rotate(-1 451.0 671.2)"/>
<rect x="318.2" y="668.6" width="10.6" height="1.0" fill="#fff" fill-opacity="0.58" transform="rotate(-4 318.2 669.1)"/>
<rect x="403.4" y="667.5" width="15.7" height="1.4" fill="#fff" fill-opacity="0.79" transform="rotate(-5 403.4 668.0)"/>
<rect x="364.1" y="667.2" width="18.6" height="1.2" fill="#fff" fill-opacity="0.50" transform="rotate(-2 364.1 667.7)"/>
<rect x="441.6" y="669.6" width="15.4" height="0.8" fill="#fff" fill-opacity="0.72" transform="rotate(1 441.6 670.1)"/>
<rect x="337.9" y="668.7" width="16.3" height="1.4" fill="#fff" fill-opacity="0.76" transform="rotate(-1 337.9 669.2)"/>
<rect x="311.9" y="670.3" width="8.5" height="0.7" fill="#fff" fill-opacity="0.55" transform="rotate(-4 311.9 670.8)"/>
<rect x="384.0" y="669.3" width="19.2" height="1.2" fill="#fff" fill-opacity="0.53" transform="rotate(-6 384.0 669.8)"/>
<rect x="428.7" y="670.0" width="11.2" height="0.9" fill="#fff" fill-opacity="0.58" transform="rotate(-3 428.7 670.5)"/>
<rect x="307.9" y="669.1" width="20.5" height="0.9" fill="#fff" fill-opacity="0.70" transform="rotate(-1 307.9 669.6)"/>
<rect x="499.0" y="669.1" width="20.2" height="1.4" fill="#fff" fill-opacity="0.70" transform="rotate(1 499.0 669.6)"/>
<rect x="602.1" y="671.4" width="6.7" height="1.3" fill="#fff" fill-opacity="0.64" transform="rotate(5 602.1 671.9)"/>
<rect x="902.4" y="669.2" width="10.9" height="1.4" fill="#fff" fill-opacity="0.72" transform="rotate(5 902.4 669.7)"/>
<rect x="598.8" y="670.0" width="12.2" height="0.8" fill="#fff" fill-opacity="0.64" transform="rotate(5 598.8 670.5)"/>
<rect x="726.7" y="666.8" width="18.7" height="0.7" fill="#fff" fill-opacity="0.66" transform="rotate(-4 726.7 667.3)"/>
<rect x="984.9" y="668.9" width="10.7" height="0.7" fill="#fff" fill-opacity="0.74" transform="rotate(-1 984.9 669.4)"/>
<rect x="683.7" y="665.9" width="7.0" height="1.3" fill="#fff" fill-opacity="0.66" transform="rotate(-3 683.7 666.4)"/>
<rect x="571.3" y="666.7" width="10.5" height="0.6" fill="#fff" fill-opacity="0.80" transform="rotate(-2 571.3 667.2)"/>
<rect x="879.1" y="295.1" width="10.7" height="1.1" fill="#fff" fill-opacity="0.88" transform="rotate(5 879.1 295.6)"/>
<rect x="791.9" y="298.0" width="18.6" height="1.2" fill="#fff" fill-opacity="0.65" transform="rotate(-4 791.9 298.5)"/>
<rect x="877.3" y="295.9" width="11.1" height="1.0" fill="#fff" fill-opacity="0.67" transform="rotate(4 877.3 296.4)"/>
<rect x="801.1" y="296.8" width="6.7" height="1.1" fill="#fff" fill-opacity="0.87" transform="rotate(2 801.1 297.3)"/>
<rect x="887.7" y="296.5" width="21.1" height="1.0" fill="#fff" fill-opacity="0.57" transform="rotate(-2 887.7 297.0)"/>
<rect x="845.5" y="297.3" width="7.3" height="0.7" fill="#fff" fill-opacity="0.70" transform="rotate(6 845.5 297.8)"/>
<rect x="781.7" y="296.2" width="6.6" height="0.8" fill="#fff" fill-opacity="0.83" transform="rotate(-6 781.7 296.7)"/>
<rect x="879.3" y="297.8" width="19.7" height="0.9" fill="#fff" fill-opacity="0.63" transform="rotate(2 879.3 298.3)"/>
<rect x="836.9" y="295.8" width="12.7" height="1.0" fill="#fff" fill-opacity="0.80" transform="rotate(4 836.9 296.3)"/>
<rect x="887.5" y="295.6" width="8.6" height="1.0" fill="#fff" fill-opacity="0.75" transform="rotate(-2 887.5 296.1)"/>
<rect x="795.4" y="295.7" width="7.4" height="1.0" fill="#fff" fill-opacity="0.94" transform="rotate(5 795.4 296.2)"/>
<rect x="882.5" y="298.6" width="21.6" height="1.1" fill="#fff" fill-opacity="0.87" transform="rotate(-5 882.5 299.1)"/>
<rect x="857.9" y="295.6" width="15.7" height="1.1" fill="#fff" fill-opacity="0.93" transform="rotate(-0 857.9 296.1)"/>
<rect x="854.2" y="295.8" width="10.8" height="1.3" fill="#fff" fill-opacity="0.51" transform="rotate(-4 854.2 296.3)"/>
<rect x="858.2" y="294.6" width="13.2" height="1.1" fill="#fff" fill-opacity="0.67" transform="rotate(1 858.2 295.1)"/>
<rect x="824.1" y="296.8" width="14.5" height="0.9" fill="#fff" fill-opacity="0.55" transform="rotate(-4 824.1 297.3)"/>
<rect x="885.7" y="294.8" width="14.8" height="1.3" fill="#fff" fill-opacity="0.61" transform="rotate(-5 885.7 295.3)"/>
<rect x="839.0" y="296.5" width="10.0" height="1.0" fill="#fff" fill-opacity="0.60" transform="rotate(1 839.0 297.0)"/>
<rect x="784.7" y="296.9" width="14.2" height="0.7" fill="#fff" fill-opacity="0.68" transform="rotate(-5 784.7 297.4)"/>
<rect x="827.1" y="296.7" width="19.8" height="1.2" fill="#fff" fill-opacity="0.84" transform="rotate(-5 827.1 297.2)"/>
<rect x="562.9" y="293.9" width="11.5" height="1.0" fill="#fff" fill-opacity="0.89" transform="rotate(4 562.9 294.4)"/>
<rect x="567.4" y="297.9" width="8.9" height="1.1" fill="#fff" fill-opacity="0.68" transform="rotate(-0 567.4 298.4)"/>
<rect x="593.2" y="295.4" width="19.5" height="1.3" fill="#fff" fill-opacity="0.77" transform="rotate(-5 593.2 295.9)"/>
<rect x="629.1" y="298.4" width="9.5" height="1.1" fill="#fff" fill-opacity="0.52" transform="rotate(-4 629.1 298.9)"/>
<rect x="635.8" y="296.5" width="13.5" height="0.9" fill="#fff" fill-opacity="0.66" transform="rotate(-6 635.8 297.0)"/>
<rect x="681.6" y="293.1" width="11.3" height="1.0" fill="#fff" fill-opacity="0.94" transform="rotate(-5 681.6 293.6)"/>
<rect x="590.6" y="294.6" width="16.7" height="0.8" fill="#fff" fill-opacity="0.73" transform="rotate(-3 590.6 295.1)"/>
<rect x="679.5" y="298.7" width="14.5" height="1.4" fill="#fff" fill-opacity="0.52" transform="rotate(1 679.5 299.2)"/>
<rect x="721.9" y="297.6" width="20.0" height="1.1" fill="#fff" fill-opacity="0.79" transform="rotate(-2 721.9 298.1)"/>
<rect x="619.1" y="298.2" width="18.7" height="1.4" fill="#fff" fill-opacity="0.81" transform="rotate(-2 619.1 298.7)"/>
<rect x="434.6" y="296.1" width="17.8" height="1.1" fill="#fff" fill-opacity="0.66" transform="rotate(1 434.6 296.6)"/>
<rect x="245.2" y="295.0" width="7.0" height="0.9" fill="#fff" fill-opacity="0.94" transform="rotate(-0 245.2 295.5)"/>
<rect x="224.7" y="294.4" width="9.9" height="0.9" fill="#fff" fill-opacity="0.56" transform="rotate(-6 224.7 294.9)"/>
<rect x="491.6" y="295.7" width="13.3" height="1.1" fill="#fff" fill-opacity="0.64" transform="rotate(-4 491.6 296.2)"/>
<rect x="65.2" y="294.9" width="10.8" height="1.2" fill="#fff" fill-opacity="0.75" transform="rotate(5 65.2 295.4)"/>
<rect x="210.4" y="296.5" width="20.7" height="0.7" fill="#fff" fill-opacity="0.58" transform="rotate(1 210.4 297.0)"/>
<rect x="834.5" y="550.8" width="20.7" height="0.8" fill="#fff" fill-opacity="0.94" transform="rotate(5 834.5 551.3)"/>
<rect x="865.1" y="550.0" width="10.4" height="0.8" fill="#fff" fill-opacity="0.53" transform="rotate(-5 865.1 550.5)"/>
<rect x="836.1" y="551.8" width="12.5" height="0.9" fill="#fff" fill-opacity="0.50" transform="rotate(2 836.1 552.3)"/>
<rect x="854.9" y="551.7" width="14.7" height="1.2" fill="#fff" fill-opacity="0.94" transform="rotate(4 854.9 552.2)"/>
<rect x="863.3" y="550.7" width="12.4" height="0.9" fill="#fff" fill-opacity="0.94" transform="rotate(-1 863.3 551.2)"/>
<rect x="820.1" y="549.9" width="12.6" height="1.4" fill="#fff" fill-opacity="0.50" transform="rotate(1 820.1 550.4)"/>
<rect x="890.4" y="552.0" width="10.1" height="0.9" fill="#fff" fill-opacity="0.61" transform="rotate(-4 890.4 552.5)"/>
<rect x="785.1" y="552.8" width="19.5" height="1.3" fill="#fff" fill-opacity="0.52" transform="rotate(2 785.1 553.3)"/>
<rect x="812.2" y="551.7" width="16.3" height="0.9" fill="#fff" fill-opacity="0.94" transform="rotate(-6 812.2 552.2)"/>
<rect x="867.0" y="551.5" width="19.7" height="1.1" fill="#fff" fill-opacity="0.95" transform="rotate(-3 867.0 552.0)"/>
<rect x="851.8" y="551.0" width="17.9" height="1.2" fill="#fff" fill-opacity="0.68" transform="rotate(0 851.8 551.5)"/>
<rect x="849.7" y="550.7" width="16.8" height="1.1" fill="#fff" fill-opacity="0.74" transform="rotate(-3 849.7 551.2)"/>
<rect x="849.6" y="553.3" width="10.2" height="1.0" fill="#fff" fill-opacity="0.82" transform="rotate(0 849.6 553.8)"/>
<rect x="832.0" y="549.9" width="9.5" height="1.3" fill="#fff" fill-opacity="0.74" transform="rotate(0 832.0 550.4)"/>
<rect x="838.6" y="550.3" width="19.0" height="0.7" fill="#fff" fill-opacity="0.87" transform="rotate(-0 838.6 550.8)"/>
<rect x="853.3" y="553.3" width="19.2" height="1.3" fill="#fff" fill-opacity="0.52" transform="rotate(-1 853.3 553.8)"/>
<rect x="878.2" y="549.8" width="19.1" height="0.7" fill="#fff" fill-opacity="0.61" transform="rotate(-5 878.2 550.3)"/>
<rect x="816.4" y="551.6" width="18.9" height="1.0" fill="#fff" fill-opacity="0.54" transform="rotate(-1 816.4 552.1)"/>
<rect x="899.6" y="551.3" width="17.1" height="1.0" fill="#fff" fill-opacity="0.86" transform="rotate(3 899.6 551.8)"/>
<rect x="789.5" y="550.9" width="16.9" height="1.0" fill="#fff" fill-opacity="0.61" transform="rotate(-2 789.5 551.4)"/>
<rect x="661.4" y="552.1" width="6.9" height="0.9" fill="#fff" fill-opacity="0.76" transform="rotate(6 661.4 552.6)"/>
<rect x="731.5" y="548.9" width="20.0" height="0.9" fill="#fff" fill-opacity="0.73" transform="rotate(-6 731.5 549.4)"/>
<rect x="767.6" y="549.6" width="10.4" height="0.9" fill="#fff" fill-opacity="0.61" transform="rotate(4 767.6 550.1)"/>
<rect x="676.7" y="550.5" width="14.2" height="0.6" fill="#fff" fill-opacity="0.64" transform="rotate(4 676.7 551.0)"/>
<rect x="728.4" y="549.5" width="19.7" height="0.8" fill="#fff" fill-opacity="0.52" transform="rotate(0 728.4 550.0)"/>
<rect x="638.5" y="550.9" width="13.4" height="1.1" fill="#fff" fill-opacity="0.66" transform="rotate(4 638.5 551.4)"/>
<rect x="602.1" y="551.3" width="20.7" height="0.6" fill="#fff" fill-opacity="0.64" transform="rotate(0 602.1 551.8)"/>
<rect x="645.9" y="549.9" width="15.0" height="0.8" fill="#fff" fill-opacity="0.86" transform="rotate(-3 645.9 550.4)"/>
<rect x="709.2" y="551.6" width="18.8" height="1.0" fill="#fff" fill-opacity="0.92" transform="rotate(-1 709.2 552.1)"/>
<rect x="744.4" y="550.6" width="6.9" height="1.1" fill="#fff" fill-opacity="0.52" transform="rotate(4 744.4 551.1)"/>
<rect x="68.1" y="549.1" width="15.5" height="1.3" fill="#fff" fill-opacity="0.75" transform="rotate(4 68.1 549.6)"/>
<rect x="294.1" y="552.0" width="16.8" height="0.8" fill="#fff" fill-opacity="0.59" transform="rotate(4 294.1 552.5)"/>
<rect x="107.3" y="549.2" width="20.7" height="0.7" fill="#fff" fill-opacity="0.54" transform="rotate(3 107.3 549.7)"/>
<rect x="534.0" y="552.0" width="12.6" height="0.8" fill="#fff" fill-opacity="0.91" transform="rotate(2 534.0 552.5)"/>
<rect x="112.1" y="552.2" width="6.9" height="0.6" fill="#fff" fill-opacity="0.88" transform="rotate(-2 112.1 552.7)"/>
<rect x="153.3" y="549.9" width="15.3" height="1.0" fill="#fff" fill-opacity="0.57" transform="rotate(5 153.3 550.4)"/>
<rect x="873.1" y="791.9" width="6.1" height="0.6" fill="#fff" fill-opacity="0.55" transform="rotate(4 873.1 792.4)"/>
<rect x="824.4" y="791.8" width="15.7" height="0.9" fill="#fff" fill-opacity="0.60" transform="rotate(-2 824.4 792.3)"/>
<rect x="879.8" y="791.0" width="15.9" height="0.7" fill="#fff" fill-opacity="0.62" transform="rotate(2 879.8 791.5)"/>
<rect x="827.5" y="793.5" width="16.6" height="0.7" fill="#fff" fill-opacity="0.81" transform="rotate(-6 827.5 794.0)"/>
<rect x="877.0" y="790.9" width="8.9" height="1.4" fill="#fff" fill-opacity="0.66" transform="rotate(-3 877.0 791.4)"/>
<rect x="885.7" y="793.9" width="15.8" height="0.9" fill="#fff" fill-opacity="0.72" transform="rotate(5 885.7 794.4)"/>
<rect x="835.9" y="790.5" width="21.8" height="1.3" fill="#fff" fill-opacity="0.57" transform="rotate(0 835.9 791.0)"/>
<rect x="770.0" y="794.1" width="8.8" height="1.0" fill="#fff" fill-opacity="0.86" transform="rotate(-3 770.0 794.6)"/>
<rect x="815.8" y="792.3" width="7.6" height="1.3" fill="#fff" fill-opacity="0.73" transform="rotate(-1 815.8 792.8)"/>
<rect x="890.7" y="792.8" width="20.3" height="0.7" fill="#fff" fill-opacity="0.78" transform="rotate(-1 890.7 793.3)"/>
<rect x="894.5" y="792.8" width="11.8" height="1.1" fill="#fff" fill-opacity="0.67" transform="rotate(0 894.5 793.3)"/>
<rect x="858.0" y="792.0" width="20.5" height="0.9" fill="#fff" fill-opacity="0.94" transform="rotate(-5 858.0 792.5)"/>
<rect x="878.5" y="792.3" width="16.9" height="1.0" fill="#fff" fill-opacity="0.84" transform="rotate(5 878.5 792.8)"/>
<rect x="864.8" y="789.8" width="18.0" height="0.9" fill="#fff" fill-opacity="0.56" transform="rotate(5 864.8 790.3)"/>
<rect x="885.9" y="792.4" width="8.3" height="1.1" fill="#fff" fill-opacity="0.52" transform="rotate(-1 885.9 792.9)"/>
<rect x="867.2" y="790.9" width="16.3" height="1.2" fill="#fff" fill-opacity="0.63" transform="rotate(1 867.2 791.4)"/>
<rect x="824.7" y="792.7" width="21.7" height="1.2" fill="#fff" fill-opacity="0.80" transform="rotate(-1 824.7 793.2)"/>
<rect x="895.2" y="792.9" width="17.4" height="0.8" fill="#fff" fill-opacity="0.57" transform="rotate(1 895.2 793.4)"/>
<rect x="877.4" y="791.3" width="18.7" height="0.7" fill="#fff" fill-opacity="0.73" transform="rotate(5 877.4 791.8)"/>
<rect x="791.1" y="790.4" width="17.8" height="0.8" fill="#fff" fill-opacity="0.52" transform="rotate(-2 791.1 790.9)"/>
<rect x="588.0" y="788.7" width="11.4" height="0.9" fill="#fff" fill-opacity="0.73" transform="rotate(4 588.0 789.2)"/>
<rect x="700.2" y="790.9" width="15.2" height="1.1" fill="#fff" fill-opacity="0.62" transform="rotate(4 700.2 791.4)"/>
<rect x="725.6" y="789.3" width="19.4" height="1.1" fill="#fff" fill-opacity="0.84" transform="rotate(0 725.6 789.8)"/>
<rect x="748.7" y="793.1" width="20.4" height="1.3" fill="#fff" fill-opacity="0.79" transform="rotate(5 748.7 793.6)"/>
<rect x="587.6" y="792.8" width="17.3" height="1.1" fill="#fff" fill-opacity="0.62" transform="rotate(-5 587.6 793.3)"/>
<rect x="686.7" y="790.0" width="19.2" height="0.8" fill="#fff" fill-opacity="0.60" transform="rotate(-5 686.7 790.5)"/>
<rect x="702.0" y="793.4" width="21.6" height="0.9" fill="#fff" fill-opacity="0.81" transform="rotate(-5 702.0 793.9)"/>
<rect x="736.1" y="788.3" width="11.2" height="1.1" fill="#fff" fill-opacity="0.56" transform="rotate(-3 736.1 788.8)"/>
<rect x="572.4" y="791.9" width="13.1" height="1.2" fill="#fff" fill-opacity="0.52" transform="rotate(4 572.4 792.4)"/>
<rect x="583.2" y="792.3" width="9.6" height="0.9" fill="#fff" fill-opacity="0.65" transform="rotate(1 583.2 792.8)"/>
<rect x="145.5" y="789.6" width="18.7" height="1.3" fill="#fff" fill-opacity="0.86" transform="rotate(0 145.5 790.1)"/>
<rect x="46.2" y="788.5" width="18.4" height="1.0" fill="#fff" fill-opacity="0.69" transform="rotate(-5 46.2 789.0)"/>
<rect x="363.9" y="792.0" width="17.6" height="0.9" fill="#fff" fill-opacity="0.73" transform="rotate(1 363.9 792.5)"/>
<rect x="149.9" y="794.7" width="19.9" height="1.2" fill="#fff" fill-opacity="0.93" transform="rotate(-2 149.9 795.2)"/>
<rect x="552.7" y="791.4" width="7.1" height="0.7" fill="#fff" fill-opacity="0.70" transform="rotate(2 552.7 791.9)"/>
<rect x="405.5" y="790.5" width="13.3" height="0.8" fill="#fff" fill-opacity="0.68" transform="rotate(-3 405.5 791.0)"/>
<rect x="381.0" y="318.1" width="0.9" height="16.9" fill="#fff" fill-opacity="0.90"/>
<rect x="378.7" y="406.1" width="1.2" height="21.1" fill="#fff" fill-opacity="0.61"/>
<rect x="378.0" y="477.3" width="0.7" height="11.6" fill="#fff" fill-opacity="0.70"/>
<rect x="381.4" y="878.7" width="1.2" height="16.5" fill="#fff" fill-opacity="0.88"/>
<rect x="377.7" y="886.6" width="0.8" height="18.0" fill="#fff" fill-opacity="0.69"/>
<rect x="381.2" y="312.3" width="1.3" height="9.7" fill="#fff" fill-opacity="0.65"/>
<rect x="381.2" y="754.5" width="1.2" height="18.4" fill="#fff" fill-opacity="0.74"/>
<rect x="378.0" y="361.9" width="1.1" height="19.2" fill="#fff" fill-opacity="0.67"/>
<rect x="377.1" y="617.0" width="1.0" height="21.5" fill="#fff" fill-opacity="0.79"/>
<rect x="378.5" y="617.7" width="1.3" height="21.0" fill="#fff" fill-opacity="0.81"/>
<rect x="377.4" y="870.8" width="0.8" height="7.4" fill="#fff" fill-opacity="0.91"/>
<rect x="380.2" y="308.0" width="1.4" height="10.2" fill="#fff" fill-opacity="0.58"/>
<rect x="380.1" y="558.4" width="1.2" height="17.0" fill="#fff" fill-opacity="0.84"/>
<rect x="376.4" y="446.6" width="1.2" height="10.1" fill="#fff" fill-opacity="0.59"/>
<rect x="704.6" y="547.2" width="1.2" height="16.8" fill="#fff" fill-opacity="0.78"/>
<rect x="708.7" y="509.6" width="0.6" height="16.8" fill="#fff" fill-opacity="0.71"/>
<rect x="707.8" y="658.1" width="0.7" height="17.3" fill="#fff" fill-opacity="0.93"/>
<rect x="706.6" y="735.7" width="1.4" height="9.7" fill="#fff" fill-opacity="0.59"/>
<rect x="709.2" y="464.6" width="0.8" height="21.4" fill="#fff" fill-opacity="0.83"/>
<rect x="708.5" y="429.0" width="0.7" height="16.6" fill="#fff" fill-opacity="0.60"/>
<rect x="704.4" y="324.8" width="0.7" height="10.3" fill="#fff" fill-opacity="0.68"/>
<rect x="707.5" y="473.0" width="1.4" height="7.2" fill="#fff" fill-opacity="0.76"/>
<rect x="706.6" y="426.1" width="0.7" height="17.3" fill="#fff" fill-opacity="0.72"/>
<rect x="705.1" y="182.7" width="0.9" height="16.8" fill="#fff" fill-opacity="0.93"/>
<rect x="707.8" y="722.1" width="1.1" height="19.4" fill="#fff" fill-opacity="0.82"/>
<rect x="708.5" y="865.8" width="0.8" height="9.1" fill="#fff" fill-opacity="0.62"/>
<rect x="709.0" y="761.5" width="1.3" height="15.6" fill="#fff" fill-opacity="0.76"/>
<rect x="707.2" y="312.8" width="1.2" height="6.2" fill="#fff" fill-opacity="0.62"/></g><path fill="#f6cd3c" d="M5 911 L200 911.2 L420 912 L700 912.6 L900 913.5 L1011 914.2 L1011.4 983.8 L5 983.6 Z"/></svg>
<div class="d" style="left:197px;top:733px;"></div>
<div class="d" style="left:539px;top:733px;"></div>
<div class="d" style="left:851px;top:733px;"></div>
<svg width="1024" height="988" style="position:absolute;left:0;top:0" viewBox="0 0 1024 988"><g fill="#f6cd3c"><ellipse cx="366.7" cy="96.6" rx="12.2" ry="14.5" fill="none" stroke="#f6cd3c" stroke-width="5.4"/><path d="M386 80 H396.7 V88.5 C398.6 83.6 402.2 80 409.3 80 V85.2 H404.2 C400.2 85.6 397.6 89.5 396.7 95.5 V108.3 H403.4 V113.4 H386.2 V108.3 H391.8 V85.8 H386 Z"/></g></svg>
<svg width="1024" height="988" viewBox="0 0 1024 988" style="position:absolute;left:0;top:0"><g fill="#080808"><g transform="translate(143.5 252.3)"><rect x="0" y="-48.3" width="11.9" height="5.4"/><rect x="6.6" y="-48.3" width="5.3" height="48.3"/><rect x="0" y="-5.6" width="17.4" height="5.6"/></g><g transform="translate(169.0 252.3)"><polygon points="0,0.6 4.8,0.6 25.9,-49.5 21.1,-49.5"/></g><g transform="translate(198.9 252.3)"><path fill="none" stroke="#080808" stroke-width="5.5" d="M3.5 -30.7 L3.5 -36 C3.5 -42.5 8 -46.35 14 -46.35 C20 -46.35 24.15 -42.5 24.15 -36.5 C24.15 -30 19 -26 13 -21 C7 -16 2.8 -10.5 2.8 -4"/><rect x="0" y="-5.8" width="26.9" height="5.8"/><rect x="22.3" y="-17.2" width="4.6" height="17.2"/></g><g transform="translate(247.0 252.3)"><path fill="none" stroke="#080808" stroke-width="5.5" d="M23.5 -27.5 C21 -30.5 17.5 -31.55 13.8 -31.55 C7 -31.55 2.8 -25.5 2.8 -17 C2.8 -8 7.5 -2.4 14 -2.4 C19 -2.4 22.5 -5 25.5 -9.5"/><rect x="22.1" y="-33.6" width="4.4" height="12.4"/></g><g transform="translate(502.4 252.3)"><rect x="17.3" y="-49" width="5.3" height="49"/><polygon points="17.3,-49 19,-49 19,-41.5 5.6,-19.1 0,-18.5"/><rect x="0" y="-19.1" width="28.6" height="5.6"/><rect x="12.3" y="-5.9" width="13.5" height="5.9"/></g><g transform="translate(551.5 252.3)"><ellipse fill="none" stroke="#080808" stroke-width="5.7" cx="15.2" cy="-16.85" rx="12.4" ry="14.6"/></g><g transform="translate(587.0 252.3)"><rect x="1.4" y="-33.6" width="23.6" height="5.5"/><rect x="1.4" y="-33.6" width="4.1" height="11.3"/><polygon points="18.3,-28.6 25,-28.6 7,-5 0.2,-5"/><rect x="0" y="-5.6" width="25" height="5.6"/><rect x="20.2" y="-12.8" width="4.8" height="12.8"/></g><g transform="translate(770.8 252.3)"><rect x="0" y="-48.3" width="11.9" height="5.4"/><rect x="6.6" y="-48.3" width="5.3" height="48.3"/><rect x="0" y="-5.6" width="17.4" height="5.6"/></g><g transform="translate(796.2 252.3)"><polygon points="0,0.6 4.8,0.6 25.9,-49.5 21.1,-49.5"/></g><g transform="translate(825.5 252.3)"><rect x="17.3" y="-49" width="5.3" height="49"/><polygon points="17.3,-49 19,-49 19,-41.5 5.6,-19.1 0,-18.5"/><rect x="0" y="-19.1" width="28.6" height="5.6"/><rect x="12.3" y="-5.9" width="13.5" height="5.9"/></g><g transform="translate(874.9 252.3)"><polygon points="4.1,-40.5 9.5,-44.8 9.5,-40"/><rect x="4.1" y="-41.3" width="5.4" height="35"/><path fill="none" stroke="#080808" stroke-width="5.4" d="M6.8 -7 Q6.8 -2.7 11 -2.7 L14.4 -2.7"/><rect x="0" y="-33.5" width="14.4" height="5.4"/></g><g transform="translate(894.7 252.3)"><path fill="none" stroke="#080808" stroke-width="5.7" d="M20.6 -29.6 C18.5 -31.3 15.2 -31.3 11.5 -31.3 C6.5 -31.3 3.25 -29 3.25 -25.2 C3.25 -21 7.3 -19.6 11.5 -18.4 C16 -17.1 19.85 -15.6 19.85 -10 C19.85 -5.3 15.8 -2.45 11 -2.45 C7 -2.45 4 -3.6 2.3 -6.2"/><rect x="19.3" y="-33.5" width="3.2" height="10.3"/><rect x="0" y="-12" width="4" height="11.3"/></g><g transform="translate(922.0 252.3)"><rect x="0.6" y="-33" width="10.3" height="4.9"/><rect x="5.5" y="-33" width="5.4" height="48"/><rect x="0" y="9.6" width="16.5" height="5.4"/><ellipse fill="none" stroke="#080808" stroke-width="5.4" cx="21.8" cy="-17.1" rx="11.1" ry="14.6"/></g><g transform="translate(173.7 384.2)"><rect x="0" y="-48.3" width="11.9" height="5.4"/><rect x="6.6" y="-48.3" width="5.3" height="48.3"/><rect x="0" y="-5.6" width="17.4" height="5.6"/></g><g transform="translate(216.6 384.2)"><path fill="none" stroke="#080808" stroke-width="5.5" d="M23.5 -27.5 C21 -30.5 17.5 -31.55 13.8 -31.55 C7 -31.55 2.8 -25.5 2.8 -17 C2.8 -8 7.5 -2.4 14 -2.4 C19 -2.4 22.5 -5 25.5 -9.5"/><rect x="22.1" y="-33.6" width="4.4" height="12.4"/></g><g transform="translate(502.0 384.2)"><ellipse fill="none" stroke="#080808" stroke-width="5.3" cx="14.95" cy="-36.1" rx="10.75" ry="10.8"/><ellipse fill="none" stroke="#080808" stroke-width="5.6" cx="15.1" cy="-13.1" rx="11.8" ry="10.9"/></g><g transform="translate(551.8 384.2)"><ellipse fill="none" stroke="#080808" stroke-width="5.7" cx="15.2" cy="-16.85" rx="12.4" ry="14.6"/></g><g transform="translate(587.0 384.2)"><rect x="1.4" y="-33.6" width="23.6" height="5.5"/><rect x="1.4" y="-33.6" width="4.1" height="11.3"/><polygon points="18.3,-28.6 25,-28.6 7,-5 0.2,-5"/><rect x="0" y="-5.6" width="25" height="5.6"/><rect x="20.2" y="-12.8" width="4.8" height="12.8"/></g><g transform="translate(770.8 384.2)"><rect x="0" y="-48.3" width="11.9" height="5.4"/><rect x="6.6" y="-48.3" width="5.3" height="48.3"/><rect x="0" y="-5.6" width="17.4" height="5.6"/></g><g transform="translate(795.2 384.2)"><polygon points="0,0.6 4.8,0.6 25.9,-49.5 21.1,-49.5"/></g><g transform="translate(825.5 384.2)"><path fill="none" stroke="#080808" stroke-width="5.5" d="M3.5 -30.7 L3.5 -36 C3.5 -42.5 8 -46.35 14 -46.35 C20 -46.35 24.15 -42.5 24.15 -36.5 C24.15 -30 19 -26 13 -21 C7 -16 2.8 -10.5 2.8 -4"/><rect x="0" y="-5.8" width="26.9" height="5.8"/><rect x="22.3" y="-17.2" width="4.6" height="17.2"/></g><g transform="translate(874.9 384.2)"><polygon points="4.1,-40.5 9.5,-44.8 9.5,-40"/><rect x="4.1" y="-41.3" width="5.4" height="35"/><path fill="none" stroke="#080808" stroke-width="5.4" d="M6.8 -7 Q6.8 -2.7 11 -2.7 L14.4 -2.7"/><rect x="0" y="-33.5" width="14.4" height="5.4"/></g><g transform="translate(894.7 384.2)"><path fill="none" stroke="#080808" stroke-width="5.7" d="M20.6 -29.6 C18.5 -31.3 15.2 -31.3 11.5 -31.3 C6.5 -31.3 3.25 -29 3.25 -25.2 C3.25 -21 7.3 -19.6 11.5 -18.4 C16 -17.1 19.85 -15.6 19.85 -10 C19.85 -5.3 15.8 -2.45 11 -2.45 C7 -2.45 4 -3.6 2.3 -6.2"/><rect x="19.3" y="-33.5" width="3.2" height="10.3"/><rect x="0" y="-12" width="4" height="11.3"/></g><g transform="translate(922.0 384.2)"><rect x="0.6" y="-33" width="10.3" height="4.9"/><rect x="5.5" y="-33" width="5.4" height="48"/><rect x="0" y="9.6" width="16.5" height="5.4"/><ellipse fill="none" stroke="#080808" stroke-width="5.4" cx="21.8" cy="-17.1" rx="11.1" ry="14.6"/></g><g transform="translate(118.8 509.0)"><rect x="0" y="-48.3" width="11.9" height="5.4"/><rect x="6.6" y="-48.3" width="5.3" height="48.3"/><rect x="0" y="-5.6" width="17.4" height="5.6"/></g><g transform="translate(167.6 509.0)"><rect x="0" y="-48.3" width="11.9" height="5.4"/><rect x="6.6" y="-48.3" width="5.3" height="48.3"/><rect x="0" y="-5.6" width="17.4" height="5.6"/></g><g transform="translate(193.1 509.0)"><polygon points="0,0.6 4.8,0.6 25.9,-49.5 21.1,-49.5"/></g><g transform="translate(223.0 509.0)"><path fill="none" stroke="#080808" stroke-width="5.5" d="M3.5 -30.7 L3.5 -36 C3.5 -42.5 8 -46.35 14 -46.35 C20 -46.35 24.15 -42.5 24.15 -36.5 C24.15 -30 19 -26 13 -21 C7 -16 2.8 -10.5 2.8 -4"/><rect x="0" y="-5.8" width="26.9" height="5.8"/><rect x="22.3" y="-17.2" width="4.6" height="17.2"/></g><g transform="translate(271.7 509.0)"><path fill="none" stroke="#080808" stroke-width="5.5" d="M23.5 -27.5 C21 -30.5 17.5 -31.55 13.8 -31.55 C7 -31.55 2.8 -25.5 2.8 -17 C2.8 -8 7.5 -2.4 14 -2.4 C19 -2.4 22.5 -5 25.5 -9.5"/><rect x="22.1" y="-33.6" width="4.4" height="12.4"/></g><g transform="translate(491.7 509.0)"><rect x="0" y="-48.3" width="11.9" height="5.4"/><rect x="6.6" y="-48.3" width="5.3" height="48.3"/><rect x="0" y="-5.6" width="17.4" height="5.6"/></g><g transform="translate(519.4 509.0)"><path fill="none" stroke="#080808" stroke-width="5.5" d="M3.5 -30.7 L3.5 -36 C3.5 -42.5 8 -46.35 14 -46.35 C20 -46.35 24.15 -42.5 24.15 -36.5 C24.15 -30 19 -26 13 -21 C7 -16 2.8 -10.5 2.8 -4"/><rect x="0" y="-5.8" width="26.9" height="5.8"/><rect x="22.3" y="-17.2" width="4.6" height="17.2"/></g><g transform="translate(569.3 509.0)"><ellipse fill="none" stroke="#080808" stroke-width="5.7" cx="15.2" cy="-16.85" rx="12.4" ry="14.6"/></g><g transform="translate(604.8 509.0)"><rect x="1.4" y="-33.6" width="23.6" height="5.5"/><rect x="1.4" y="-33.6" width="4.1" height="11.3"/><polygon points="18.3,-28.6 25,-28.6 7,-5 0.2,-5"/><rect x="0" y="-5.6" width="25" height="5.6"/><rect x="20.2" y="-12.8" width="4.8" height="12.8"/></g><g transform="translate(764.4 509.0)"><path fill="none" stroke="#080808" stroke-width="5.4" d="M4.75 -34.2 L4.75 -37 C4.75 -43 9 -46.4 15 -46.4 C21 -46.4 24.5 -42.5 24.5 -37.5 C24.5 -30 19.5 -25.6 13.5 -25.6 L10.8 -25.6"/><path fill="none" stroke="#080808" stroke-width="5.4" d="M13.5 -25.6 C21.5 -25.6 26.6 -21 26.6 -13.5 C26.6 -5.5 21 -2.35 14.5 -2.35 C7.5 -2.35 2.9 -6 2.9 -12 L2.9 -16.3"/></g><g transform="translate(797.2 509.0)"><polygon points="0,0.6 4.8,0.6 25.9,-49.5 21.1,-49.5"/></g><g transform="translate(825.9 509.0)"><rect x="17.3" y="-49" width="5.3" height="49"/><polygon points="17.3,-49 19,-49 19,-41.5 5.6,-19.1 0,-18.5"/><rect x="0" y="-19.1" width="28.6" height="5.6"/><rect x="12.3" y="-5.9" width="13.5" height="5.9"/></g><g transform="translate(874.9 509.0)"><polygon points="4.1,-40.5 9.5,-44.8 9.5,-40"/><rect x="4.1" y="-41.3" width="5.4" height="35"/><path fill="none" stroke="#080808" stroke-width="5.4" d="M6.8 -7 Q6.8 -2.7 11 -2.7 L14.4 -2.7"/><rect x="0" y="-33.5" width="14.4" height="5.4"/></g><g transform="translate(894.7 509.0)"><path fill="none" stroke="#080808" stroke-width="5.7" d="M20.6 -29.6 C18.5 -31.3 15.2 -31.3 11.5 -31.3 C6.5 -31.3 3.25 -29 3.25 -25.2 C3.25 -21 7.3 -19.6 11.5 -18.4 C16 -17.1 19.85 -15.6 19.85 -10 C19.85 -5.3 15.8 -2.45 11 -2.45 C7 -2.45 4 -3.6 2.3 -6.2"/><rect x="19.3" y="-33.5" width="3.2" height="10.3"/><rect x="0" y="-12" width="4" height="11.3"/></g><g transform="translate(922.0 509.0)"><rect x="0.6" y="-33" width="10.3" height="4.9"/><rect x="5.5" y="-33" width="5.4" height="48"/><rect x="0" y="9.6" width="16.5" height="5.4"/><ellipse fill="none" stroke="#080808" stroke-width="5.4" cx="21.8" cy="-17.1" rx="11.1" ry="14.6"/></g><g transform="translate(166.8 631.0)"><path fill="none" stroke="#080808" stroke-width="5.5" d="M3.5 -30.7 L3.5 -36 C3.5 -42.5 8 -46.35 14 -46.35 C20 -46.35 24.15 -42.5 24.15 -36.5 C24.15 -30 19 -26 13 -21 C7 -16 2.8 -10.5 2.8 -4"/><rect x="0" y="-5.8" width="26.9" height="5.8"/><rect x="22.3" y="-17.2" width="4.6" height="17.2"/></g><g transform="translate(216.3 631.0)"><path fill="none" stroke="#080808" stroke-width="5.5" d="M23.5 -27.5 C21 -30.5 17.5 -31.55 13.8 -31.55 C7 -31.55 2.8 -25.5 2.8 -17 C2.8 -8 7.5 -2.4 14 -2.4 C19 -2.4 22.5 -5 25.5 -9.5"/><rect x="22.1" y="-33.6" width="4.4" height="12.4"/></g><g transform="translate(491.7 631.0)"><rect x="0" y="-48.3" width="11.9" height="5.4"/><rect x="6.6" y="-48.3" width="5.3" height="48.3"/><rect x="0" y="-5.6" width="17.4" height="5.6"/></g><g transform="translate(519.8 631.0)"><ellipse fill="none" stroke="#080808" stroke-width="5.3" cx="13.6" cy="-14.5" rx="10.55" ry="12.8"/><path fill="none" stroke="#080808" stroke-width="5.3" d="M24.2 -33.9 L24.2 -36.5 C24.2 -43 19.5 -46 13.8 -46 C6.5 -46 3.05 -39 3.05 -27 L3.05 -14.5"/></g><g transform="translate(569.3 631.0)"><ellipse fill="none" stroke="#080808" stroke-width="5.7" cx="15.2" cy="-16.85" rx="12.4" ry="14.6"/></g><g transform="translate(604.8 631.0)"><rect x="1.4" y="-33.6" width="23.6" height="5.5"/><rect x="1.4" y="-33.6" width="4.1" height="11.3"/><polygon points="18.3,-28.6 25,-28.6 7,-5 0.2,-5"/><rect x="0" y="-5.6" width="25" height="5.6"/><rect x="20.2" y="-12.8" width="4.8" height="12.8"/></g><g transform="translate(801.5 631.0)"><rect x="0" y="-48.3" width="11.9" height="5.4"/><rect x="6.6" y="-48.3" width="5.3" height="48.3"/><rect x="0" y="-5.6" width="17.4" height="5.6"/></g><g transform="translate(845.3 631.0)"><polygon points="4.1,-40.5 9.5,-44.8 9.5,-40"/><rect x="4.1" y="-41.3" width="5.4" height="35"/><path fill="none" stroke="#080808" stroke-width="5.4" d="M6.8 -7 Q6.8 -2.7 11 -2.7 L14.4 -2.7"/><rect x="0" y="-33.5" width="14.4" height="5.4"/></g><g transform="translate(865.1 631.0)"><path fill="none" stroke="#080808" stroke-width="5.7" d="M20.6 -29.6 C18.5 -31.3 15.2 -31.3 11.5 -31.3 C6.5 -31.3 3.25 -29 3.25 -25.2 C3.25 -21 7.3 -19.6 11.5 -18.4 C16 -17.1 19.85 -15.6 19.85 -10 C19.85 -5.3 15.8 -2.45 11 -2.45 C7 -2.45 4 -3.6 2.3 -6.2"/><rect x="19.3" y="-33.5" width="3.2" height="10.3"/><rect x="0" y="-12" width="4" height="11.3"/></g><g transform="translate(892.4 631.0)"><rect x="0.6" y="-33" width="10.3" height="4.9"/><rect x="5.5" y="-33" width="5.4" height="48"/><rect x="0" y="9.6" width="16.5" height="5.4"/><ellipse fill="none" stroke="#080808" stroke-width="5.4" cx="21.8" cy="-17.1" rx="11.1" ry="14.6"/></g><g transform="translate(168.0 872.7)"><ellipse fill="none" stroke="#080808" stroke-width="5.3" cx="13.6" cy="-14.5" rx="10.55" ry="12.8"/><path fill="none" stroke="#080808" stroke-width="5.3" d="M24.2 -33.9 L24.2 -36.5 C24.2 -43 19.5 -46 13.8 -46 C6.5 -46 3.05 -39 3.05 -27 L3.05 -14.5"/></g><g transform="translate(216.3 872.7)"><path fill="none" stroke="#080808" stroke-width="5.5" d="M23.5 -27.5 C21 -30.5 17.5 -31.55 13.8 -31.55 C7 -31.55 2.8 -25.5 2.8 -17 C2.8 -8 7.5 -2.4 14 -2.4 C19 -2.4 22.5 -5 25.5 -9.5"/><rect x="22.1" y="-33.6" width="4.4" height="12.4"/></g><g transform="translate(485.0 872.7)"><rect x="17.3" y="-49" width="5.3" height="49"/><polygon points="17.3,-49 19,-49 19,-41.5 5.6,-19.1 0,-18.5"/><rect x="0" y="-19.1" width="28.6" height="5.6"/><rect x="12.3" y="-5.9" width="13.5" height="5.9"/></g><g transform="translate(518.6 872.7)"><ellipse fill="none" stroke="#080808" stroke-width="5.3" cx="14.95" cy="-36.1" rx="10.75" ry="10.8"/><ellipse fill="none" stroke="#080808" stroke-width="5.6" cx="15.1" cy="-13.1" rx="11.8" ry="10.9"/></g><g transform="translate(569.3 872.7)"><ellipse fill="none" stroke="#080808" stroke-width="5.7" cx="15.2" cy="-16.85" rx="12.4" ry="14.6"/></g><g transform="translate(604.8 872.7)"><rect x="1.4" y="-33.6" width="23.6" height="5.5"/><rect x="1.4" y="-33.6" width="4.1" height="11.3"/><polygon points="18.3,-28.6 25,-28.6 7,-5 0.2,-5"/><rect x="0" y="-5.6" width="25" height="5.6"/><rect x="20.2" y="-12.8" width="4.8" height="12.8"/></g><g transform="translate(794.7 872.7)"><path fill="none" stroke="#080808" stroke-width="5.4" d="M4.75 -34.2 L4.75 -37 C4.75 -43 9 -46.4 15 -46.4 C21 -46.4 24.5 -42.5 24.5 -37.5 C24.5 -30 19.5 -25.6 13.5 -25.6 L10.8 -25.6"/><path fill="none" stroke="#080808" stroke-width="5.4" d="M13.5 -25.6 C21.5 -25.6 26.6 -21 26.6 -13.5 C26.6 -5.5 21 -2.35 14.5 -2.35 C7.5 -2.35 2.9 -6 2.9 -12 L2.9 -16.3"/></g><g transform="translate(845.3 872.7)"><polygon points="4.1,-40.5 9.5,-44.8 9.5,-40"/><rect x="4.1" y="-41.3" width="5.4" height="35"/><path fill="none" stroke="#080808" stroke-width="5.4" d="M6.8 -7 Q6.8 -2.7 11 -2.7 L14.4 -2.7"/><rect x="0" y="-33.5" width="14.4" height="5.4"/></g><g transform="translate(865.1 872.7)"><path fill="none" stroke="#080808" stroke-width="5.7" d="M20.6 -29.6 C18.5 -31.3 15.2 -31.3 11.5 -31.3 C6.5 -31.3 3.25 -29 3.25 -25.2 C3.25 -21 7.3 -19.6 11.5 -18.4 C16 -17.1 19.85 -15.6 19.85 -10 C19.85 -5.3 15.8 -2.45 11 -2.45 C7 -2.45 4 -3.6 2.3 -6.2"/><rect x="19.3" y="-33.5" width="3.2" height="10.3"/><rect x="0" y="-12" width="4" height="11.3"/></g><g transform="translate(892.4 872.7)"><rect x="0.6" y="-33" width="10.3" height="4.9"/><rect x="5.5" y="-33" width="5.4" height="48"/><rect x="0" y="9.6" width="16.5" height="5.4"/><ellipse fill="none" stroke="#080808" stroke-width="5.4" cx="21.8" cy="-17.1" rx="11.1" ry="14.6"/></g><g transform="translate(438.25 964.8)"><rect x="0" y="-26.5" width="4.9" height="4"/><rect x="4.5" y="-26.5" width="4.6" height="26.5"/><rect x="0" y="-3.6" width="12.6" height="3.6"/><rect x="18.4" y="-3.6" width="8.3" height="3.6"/><rect x="32.6" y="-3.6" width="8.5" height="3.6"/><path fill="none" stroke="#080808" stroke-width="4.8" d="M6.75 -19 C8 -23.5 10.5 -24.6 13.7 -24.6 C18.3 -24.6 20.9 -22.5 20.9 -17 L20.9 -1.5"/><path fill="none" stroke="#080808" stroke-width="4.8" d="M20.9 -19 C22.2 -23.5 25 -24.6 28.2 -24.6 C32.7 -24.6 35.25 -22.5 35.25 -17 L35.25 -1.5"/></g><g transform="translate(481.25 964.8)"><path fill="none" stroke="#080808" stroke-width="5.1" d="M2.7 -20.5 C3.5 -24.5 7 -24.9 10 -24.9 C15 -24.9 17.6 -22.5 17.6 -17 L17.6 -2"/><path fill="none" stroke="#080808" stroke-width="4.9" d="M17.6 -13.2 C13 -13.2 2.5 -13.5 2.5 -6.8 C2.5 -3 5 -1.8 8.5 -1.8 C12.5 -1.8 16 -3.5 17.6 -7"/><rect x="15.2" y="-3.7" width="8" height="3.7"/></g><g transform="translate(506.5 964.8)"><rect x="0" y="-26.2" width="10.8" height="3.6"/><rect x="14.8" y="-26.2" width="10.5" height="3.6"/><rect x="0" y="-3.6" width="10.8" height="3.6"/><rect x="14.8" y="-3.6" width="10.5" height="3.6"/><path fill="none" stroke="#080808" stroke-width="5.3" d="M5.5 -24.5 L19.8 -1.8"/><path fill="none" stroke="#080808" stroke-width="4.7" d="M19.8 -24.5 L5.5 -1.8"/></g><g transform="translate(533.3 964.8)"><rect x="0" y="-26.2" width="8.9" height="3.6"/><rect x="4.3" y="-26.2" width="4.9" height="26.2"/><rect x="0" y="-3.6" width="12.3" height="3.6"/><circle cx="6.75" cy="-35.4" r="3.2"/></g><g transform="translate(547.7 964.8)"><rect x="0" y="-26.5" width="4.9" height="4"/><rect x="4.5" y="-26.5" width="4.6" height="26.5"/><rect x="0" y="-3.6" width="12.6" height="3.6"/><rect x="18.4" y="-3.6" width="8.3" height="3.6"/><rect x="32.6" y="-3.6" width="8.5" height="3.6"/><path fill="none" stroke="#080808" stroke-width="4.8" d="M6.75 -19 C8 -23.5 10.5 -24.6 13.7 -24.6 C18.3 -24.6 20.9 -22.5 20.9 -17 L20.9 -1.5"/><path fill="none" stroke="#080808" stroke-width="4.8" d="M20.9 -19 C22.2 -23.5 25 -24.6 28.2 -24.6 C32.7 -24.6 35.25 -22.5 35.25 -17 L35.25 -1.5"/></g><g transform="translate(590.9 964.8)"><rect x="0" y="-26.8" width="8" height="3.8"/><rect x="13.3" y="-26.8" width="8.8" height="3.8"/><rect x="17.4" y="-26.8" width="4.9" height="26.8"/><rect x="17.6" y="-3.6" width="9.3" height="3.6"/><path fill="none" stroke="#080808" stroke-width="5.3" d="M5.55 -26 L5.55 -9 C5.55 -4 8 -2.1 12 -2.1 C16 -2.1 19.85 -4 19.85 -9"/></g><g transform="translate(619.5 964.8)"><rect x="0" y="-26.5" width="4.9" height="4"/><rect x="4.5" y="-26.5" width="4.6" height="26.5"/><rect x="0" y="-3.6" width="12.6" height="3.6"/><rect x="18.4" y="-3.6" width="8.3" height="3.6"/><rect x="32.6" y="-3.6" width="8.5" height="3.6"/><path fill="none" stroke="#080808" stroke-width="4.8" d="M6.75 -19 C8 -23.5 10.5 -24.6 13.7 -24.6 C18.3 -24.6 20.9 -22.5 20.9 -17 L20.9 -1.5"/><path fill="none" stroke="#080808" stroke-width="4.8" d="M20.9 -19 C22.2 -23.5 25 -24.6 28.2 -24.6 C32.7 -24.6 35.25 -22.5 35.25 -17 L35.25 -1.5"/></g><g transform="translate(674.7 964.8) scale(0.795 0.795)"><path fill="none" stroke="#080808" stroke-width="5.4" d="M4.75 -34.2 L4.75 -37 C4.75 -43 9 -46.4 15 -46.4 C21 -46.4 24.5 -42.5 24.5 -37.5 C24.5 -30 19.5 -25.6 13.5 -25.6 L10.8 -25.6"/><path fill="none" stroke="#080808" stroke-width="5.4" d="M13.5 -25.6 C21.5 -25.6 26.6 -21 26.6 -13.5 C26.6 -5.5 21 -2.35 14.5 -2.35 C7.5 -2.35 2.9 -6 2.9 -12 L2.9 -16.3"/></g><g transform="translate(713.9 964.8) scale(0.81 0.795)"><polygon points="4.1,-40.5 9.5,-44.8 9.5,-40"/><rect x="4.1" y="-41.3" width="5.4" height="35"/><path fill="none" stroke="#080808" stroke-width="5.4" d="M6.8 -7 Q6.8 -2.7 11 -2.7 L14.4 -2.7"/><rect x="0" y="-33.5" width="14.4" height="5.4"/></g><g transform="translate(728.6 964.8) scale(0.81 0.795)"><path fill="none" stroke="#080808" stroke-width="5.7" d="M20.6 -29.6 C18.5 -31.3 15.2 -31.3 11.5 -31.3 C6.5 -31.3 3.25 -29 3.25 -25.2 C3.25 -21 7.3 -19.6 11.5 -18.4 C16 -17.1 19.85 -15.6 19.85 -10 C19.85 -5.3 15.8 -2.45 11 -2.45 C7 -2.45 4 -3.6 2.3 -6.2"/><rect x="19.3" y="-33.5" width="3.2" height="10.3"/><rect x="0" y="-12" width="4" height="11.3"/></g><g transform="translate(750.9 964.8) scale(0.79 0.795)"><rect x="0.6" y="-33" width="10.3" height="4.9"/><rect x="5.5" y="-33" width="5.4" height="48"/><rect x="0" y="9.6" width="16.5" height="5.4"/><ellipse fill="none" stroke="#080808" stroke-width="5.4" cx="21.8" cy="-17.1" rx="11.1" ry="14.6"/></g><g transform="translate(793.2 964.8) scale(0.78 0.795)"><rect x="0.6" y="-33" width="10.3" height="4.9"/><rect x="5.5" y="-33" width="5.4" height="48"/><rect x="0" y="9.6" width="16.5" height="5.4"/><ellipse fill="none" stroke="#080808" stroke-width="5.4" cx="21.8" cy="-17.1" rx="11.1" ry="14.6"/></g><g transform="translate(825.2 964.8)"><path fill="none" stroke="#080808" stroke-width="5.0" d="M22.9 -13.5 C22.9 -21 18.5 -24.9 12.6 -24.9 C6.5 -24.9 2.3 -20 2.3 -13 C2.3 -5.5 6.5 -1.5 12.8 -1.5 C17 -1.5 20.5 -3.5 22.5 -7"/><rect x="2.3" y="-15.6" width="22.8" height="3.8"/></g><g transform="translate(852.9 964.8)"><path d="M0 -27.2 H8.7 V-20.3 C10.3 -24.3 13.2 -27.2 19 -27.2 V-23 H14.8 C11.6 -22.6 9.4 -19.5 8.7 -14.6 V-4.2 H14.2 V0 H0.2 V-4.2 H4.7 V-22.5 H0 Z"/></g><g transform="translate(886.6 964.8)"><ellipse fill="none" stroke="#080808" stroke-width="5.1" cx="12" cy="-13.35" rx="9.6" ry="11.7"/><rect x="18.9" y="-37.6" width="5.4" height="37.6"/><rect x="14.4" y="-37.6" width="9.9" height="4"/><rect x="18.9" y="-3.9" width="9.4" height="3.9"/></g><g transform="translate(917.7 964.8)"><path fill="none" stroke="#080808" stroke-width="5.1" d="M2.7 -20.5 C3.5 -24.5 7 -24.9 10 -24.9 C15 -24.9 17.6 -22.5 17.6 -17 L17.6 -2"/><path fill="none" stroke="#080808" stroke-width="4.9" d="M17.6 -13.2 C13 -13.2 2.5 -13.5 2.5 -6.8 C2.5 -3 5 -1.8 8.5 -1.8 C12.5 -1.8 16 -3.5 17.6 -7"/><rect x="15.2" y="-3.7" width="8" height="3.7"/></g><g transform="translate(942.9 964.8)"><rect x="0" y="-26.5" width="11.6" height="4"/><rect x="16.1" y="-26.5" width="10.6" height="4"/><rect x="3.8" y="8.2" width="8.4" height="3.6"/><path fill="none" stroke="#080808" stroke-width="5.0" d="M6.5 -24.5 L14 -3"/><path fill="none" stroke="#080808" stroke-width="5.0" d="M21.5 -24.5 L8.5 10"/></g></g></svg>
<svg width="1024" height="988" viewBox="0 0 1024 988" style="position:absolute;left:0;top:0"><g fill="#080808"><g transform="translate(127.5 76.5)"><path fill-rule="evenodd" d="M0.00 -25.30 A23.25 26.6 0 1 0 46.50 -25.30 A23.25 26.6 0 1 0 0.00 -25.30 Z M12.05 -25.10 A12.95 17.6 0 1 0 37.95 -25.10 A12.95 17.6 0 1 0 12.05 -25.10 Z"/><polygon fill="#fff" points="28,-33 48,-33 48,-14.7 38.2,-20.7 28,-20.7"/><rect x="38.2" y="-50.6" width="7.00" height="17.60"/><rect x="26" y="-50.6" width="13.00" height="7.60"/></g><g transform="translate(175.9 76.5)"><rect x="0" y="-35.2" width="14.60" height="6.40"/><rect x="5.2" y="-35.2" width="9.40" height="23.20"/><rect x="24" y="-35.2" width="9.40" height="35.20"/><rect x="19.3" y="-35.2" width="14.10" height="6.40"/><rect x="24" y="-6.9" width="14.00" height="6.90"/><path fill="none" stroke="#080808" stroke-width="9.4" d="M9.9 -14 C9.9 -6.5 13 -4.3 18.5 -4.3 C23.5 -4.3 26 -6 28.7 -10"/></g><g transform="translate(215.1 76.5)"><rect x="0" y="-35.4" width="15.30" height="6.50"/><rect x="5.3" y="-35.4" width="10.00" height="52.20"/><rect x="0" y="9.8" width="21.10" height="7.00"/><path fill-rule="evenodd" d="M10.10 -17.75 A13.4 18.75 0 1 0 36.90 -17.75 A13.4 18.75 0 1 0 10.10 -17.75 Z M15.30 -17.50 A6.4 9.7 0 1 0 28.10 -17.50 A6.4 9.7 0 1 0 15.30 -17.50 Z"/></g><g transform="translate(257.9 76.5)"><path fill="none" stroke="#080808" stroke-width="9" d="M23.2 -29.8 C21 -32 17.5 -32 14 -32 C8.5 -32 4.8 -29.5 4.8 -25.5 C4.8 -20.5 9.5 -19.5 14 -18.3 C19.5 -16.8 23.4 -15.5 23.4 -10.3 C23.4 -5 19 -3.4 14 -3.4 C9 -3.4 6 -4.8 4 -8"/><rect x="19.5" y="-35.5" width="8.10" height="10.50"/><rect x="0.3" y="-13" width="8.00" height="13.20"/></g><g transform="translate(93.1 142.4)"><path fill-rule="evenodd" d="M0.00 -17.60 A16.4 18.8 0 1 0 32.80 -17.60 A16.4 18.8 0 1 0 0.00 -17.60 Z M9.90 -17.70 A6.5 10.45 0 1 0 22.90 -17.70 A6.5 10.45 0 1 0 9.90 -17.70 Z"/></g><g transform="translate(129.8 142.4)"><rect x="5.1" y="-38" width="9.35" height="38.00"/><path fill="none" stroke="#080808" stroke-width="9.4" d="M9.8 -36 C9.8 -44.5 14 -47.4 19.5 -47.4 C23 -47.4 25 -46.5 27 -44.5"/><rect x="0" y="-35.7" width="19.50" height="8.20"/><rect x="0" y="-7.6" width="19.90" height="7.60"/></g><g transform="translate(170.1 142.4)"><rect x="0" y="-51.3" width="40.20" height="8.60"/><rect x="32" y="-51.3" width="8.20" height="15.60"/><rect x="6.6" y="-51.3" width="11.30" height="51.30"/><rect x="6.6" y="-30.2" width="21.10" height="7.80"/><rect x="0" y="-8.7" width="25.00" height="8.70"/></g><g transform="translate(207.2 142.4)"><path fill-rule="evenodd" d="M0.00 -17.60 A16.4 18.8 0 1 0 32.80 -17.60 A16.4 18.8 0 1 0 0.00 -17.60 Z M9.90 -17.70 A6.5 10.45 0 1 0 22.90 -17.70 A6.5 10.45 0 1 0 9.90 -17.70 Z"/></g><g transform="translate(245.0 142.4)"><path fill-rule="evenodd" d="M0.00 -17.60 A16.4 18.8 0 1 0 32.80 -17.60 A16.4 18.8 0 1 0 0.00 -17.60 Z M9.90 -17.70 A6.5 10.45 0 1 0 22.90 -17.70 A6.5 10.45 0 1 0 9.90 -17.70 Z"/></g><g transform="translate(282.2 142.4)"><path fill-rule="evenodd" d="M0.00 -17.95 A14 18.35 0 1 0 28.00 -17.95 A14 18.35 0 1 0 0.00 -17.95 Z M10.10 -17.45 A6.45 10.05 0 1 0 23.00 -17.45 A6.45 10.05 0 1 0 10.10 -17.45 Z"/><rect x="23" y="-51.4" width="9.70" height="51.40"/><rect x="17.6" y="-51.4" width="15.10" height="8.20"/><rect x="23" y="-7.4" width="14.70" height="7.40"/></g><g transform="translate(427.5 76.5)"><path fill-rule="evenodd" d="M0.00 -25.40 A24.95 26.3 0 1 0 49.90 -25.40 A24.95 26.3 0 1 0 0.00 -25.40 Z M12.30 -25.40 A13 17.4 0 1 0 38.30 -25.40 A13 17.4 0 1 0 12.30 -25.40 Z"/></g><g transform="translate(482.7 76.5)"><rect x="0" y="-35.2" width="14.60" height="6.40"/><rect x="5.2" y="-35.2" width="9.40" height="23.20"/><rect x="24" y="-35.2" width="9.40" height="35.20"/><rect x="19.3" y="-35.2" width="14.10" height="6.40"/><rect x="24" y="-6.9" width="14.00" height="6.90"/><path fill="none" stroke="#080808" stroke-width="9.4" d="M9.9 -14 C9.9 -6.5 13 -4.3 18.5 -4.3 C23.5 -4.3 26 -6 28.7 -10"/></g><g transform="translate(525.7 76.5)"><rect x="0" y="-35.2" width="13.60" height="6.40"/><rect x="3.9" y="-35.2" width="9.70" height="35.20"/><rect x="21.4" y="-22" width="9.80" height="22.00"/><rect x="0" y="-6.9" width="18.50" height="6.90"/><rect x="19.5" y="-6.9" width="18.50" height="6.90"/><path fill="none" stroke="#080808" stroke-width="9.5" d="M8.75 -22 C10.5 -28.5 14 -31 19.5 -31 C24 -31 26.3 -28 26.3 -21 L26.3 -18"/></g><g transform="translate(566.7 76.5)"><path fill-rule="evenodd" d="M0.00 -17.50 A16.5 18.4 0 1 0 33.00 -17.50 A16.5 18.4 0 1 0 0.00 -17.50 Z M9.80 -17.10 A8.6 9.8 0 1 0 27.00 -17.10 A8.6 9.8 0 1 0 9.80 -17.10 Z"/><polygon fill="#fff" points="18,-21.4 34,-21.4 34,-6.9 26.55,-12.4 18,-12.4"/><polygon points="16.5,0.9 24,0 29.5,-3 32.4,-8.1 26.55,-12.4 22,-8 18.4,-7.3"/><rect x="25" y="-35.1" width="7.00" height="13.70"/></g><g transform="translate(604.2 76.5)"><path d="M0.00 -17.60 A16.4 18.7 0 1 0 32.80 -17.60 A16.4 18.7 0 1 0 0.00 -17.60 Z"/><path fill="#fff" d="M9.5 -21.5 A6.75 7.9 0 0 1 23 -21.5 Z"/><path fill="#fff" d="M9.5 -11 Q9.5 -15.4 13.5 -15.4 H34 V-6.2 L26.3 -10 Q21 -5.6 15 -5.6 Q9.5 -5.6 9.5 -11 Z"/><polygon points="14,1.1 22,0.3 28,-2.6 32.8,-6.8 26.3,-10 21,-6 15,-5.4"/></g><g transform="translate(640.0 76.5)"><path fill="none" stroke="#080808" stroke-width="9" d="M23.2 -29.8 C21 -32 17.5 -32 14 -32 C8.5 -32 4.8 -29.5 4.8 -25.5 C4.8 -20.5 9.5 -19.5 14 -18.3 C19.5 -16.8 23.4 -15.5 23.4 -10.3 C23.4 -5 19 -3.4 14 -3.4 C9 -3.4 6 -4.8 4 -8"/><rect x="19.5" y="-35.5" width="8.10" height="10.50"/><rect x="0.3" y="-13" width="8.00" height="13.20"/></g><g transform="translate(434.3 142.4)"><path fill-rule="evenodd" d="M0.00 -17.60 A16.4 18.8 0 1 0 32.80 -17.60 A16.4 18.8 0 1 0 0.00 -17.60 Z M9.90 -17.70 A6.5 10.45 0 1 0 22.90 -17.70 A6.5 10.45 0 1 0 9.90 -17.70 Z"/></g><g transform="translate(471.0 142.4)"><rect x="5.1" y="-38" width="9.35" height="38.00"/><path fill="none" stroke="#080808" stroke-width="9.4" d="M9.8 -36 C9.8 -44.5 14 -47.4 19.5 -47.4 C23 -47.4 25 -46.5 27 -44.5"/><rect x="0" y="-35.7" width="19.50" height="8.20"/><rect x="0" y="-7.6" width="19.90" height="7.60"/></g><g transform="translate(511.4 142.4)"><rect x="0" y="-51.3" width="40.20" height="8.60"/><rect x="32" y="-51.3" width="8.20" height="15.60"/><rect x="6.6" y="-51.3" width="11.30" height="51.30"/><rect x="6.6" y="-30.2" width="21.10" height="7.80"/><rect x="0" y="-8.7" width="25.00" height="8.70"/></g><g transform="translate(548.5 142.4)"><path fill-rule="evenodd" d="M0.00 -17.60 A16.4 18.8 0 1 0 32.80 -17.60 A16.4 18.8 0 1 0 0.00 -17.60 Z M9.90 -17.70 A6.5 10.45 0 1 0 22.90 -17.70 A6.5 10.45 0 1 0 9.90 -17.70 Z"/></g><g transform="translate(586.3 142.4)"><path fill-rule="evenodd" d="M0.00 -17.60 A16.4 18.8 0 1 0 32.80 -17.60 A16.4 18.8 0 1 0 0.00 -17.60 Z M9.90 -17.70 A6.5 10.45 0 1 0 22.90 -17.70 A6.5 10.45 0 1 0 9.90 -17.70 Z"/></g><g transform="translate(623.5 142.4)"><path fill-rule="evenodd" d="M0.00 -17.95 A14 18.35 0 1 0 28.00 -17.95 A14 18.35 0 1 0 0.00 -17.95 Z M10.10 -17.45 A6.45 10.05 0 1 0 23.00 -17.45 A6.45 10.05 0 1 0 10.10 -17.45 Z"/><rect x="23" y="-51.4" width="9.70" height="51.40"/><rect x="17.6" y="-51.4" width="15.10" height="8.20"/><rect x="23" y="-7.4" width="14.70" height="7.40"/></g><g transform="translate(781.8 115.0)"><path fill-rule="evenodd" d="M0 -51.2 H26 A23.8 25.6 0 0 1 26 0 H0 V-8.6 H7.5 V-42.6 H0 Z M19.1 -41.2 H24.5 A10.4 16.15 0 0 1 24.5 -8.9 H19.1 Z"/></g><g transform="translate(836.1 115.0)"><path fill-rule="evenodd" d="M0.00 -17.60 A16.4 18.8 0 1 0 32.80 -17.60 A16.4 18.8 0 1 0 0.00 -17.60 Z M9.90 -17.70 A6.5 10.45 0 1 0 22.90 -17.70 A6.5 10.45 0 1 0 9.90 -17.70 Z"/></g><g transform="translate(874.0 115.0)"><path fill="none" stroke="#080808" stroke-width="9" d="M23.2 -29.8 C21 -32 17.5 -32 14 -32 C8.5 -32 4.8 -29.5 4.8 -25.5 C4.8 -20.5 9.5 -19.5 14 -18.3 C19.5 -16.8 23.4 -15.5 23.4 -10.3 C23.4 -5 19 -3.4 14 -3.4 C9 -3.4 6 -4.8 4 -8"/><rect x="19.5" y="-35.5" width="8.10" height="10.50"/><rect x="0.3" y="-13" width="8.00" height="13.20"/></g><g transform="translate(906.8 115.0)"><path d="M0.00 -17.60 A16.4 18.7 0 1 0 32.80 -17.60 A16.4 18.7 0 1 0 0.00 -17.60 Z"/><path fill="#fff" d="M9.5 -21.5 A6.75 7.9 0 0 1 23 -21.5 Z"/><path fill="#fff" d="M9.5 -11 Q9.5 -15.4 13.5 -15.4 H34 V-6.2 L26.3 -10 Q21 -5.6 15 -5.6 Q9.5 -5.6 9.5 -11 Z"/><polygon points="14,1.1 22,0.3 28,-2.6 32.8,-6.8 26.3,-10 21,-6 15,-5.4"/></g></g></svg>

<table class="sr-only"><tr><th>Cups of Food</th><th>or Ounces of Food</th><th>Dose</th></tr>
<tr><td>1/2 c</td><td>4 oz</td><td>1/4 tsp</td></tr><tr><td>1 c</td><td>8 oz</td><td>1/2 tsp</td></tr>
<tr><td>1 1/2 c</td><td>12 oz</td><td>3/4 tsp</td></tr><tr><td>2 c</td><td>16 oz</td><td>1 tsp</td></tr>
<tr><td>-</td><td>-</td><td>-</td></tr><tr><td>6 c</td><td>48 oz</td><td>3 tsp</td></tr>
<tr><td colspan="3">maximum 3 tsp per day</td></tr></table>
</body></html>
